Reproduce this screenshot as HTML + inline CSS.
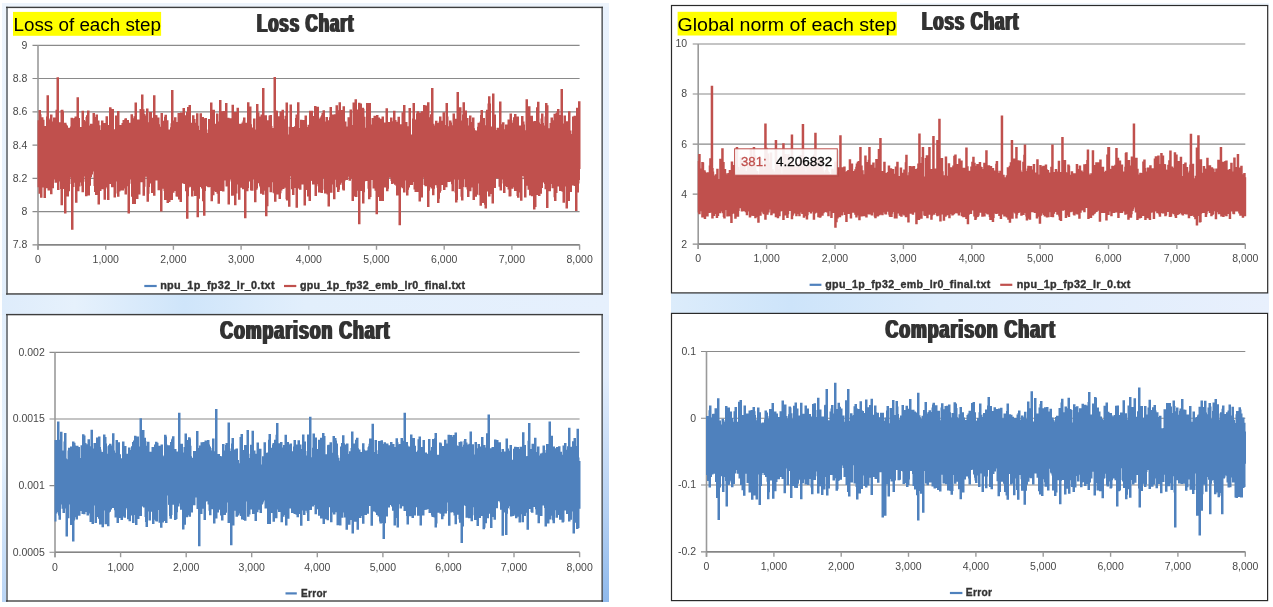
<!DOCTYPE html>
<html><head><meta charset="utf-8"><title>Loss Chart</title>
<style>
html,body{margin:0;padding:0;background:#fff;}
body{width:1273px;height:607px;overflow:hidden;}
svg{display:block;}
text{font-family:"Liberation Sans",sans-serif;}
.lab{font-size:10.5px;fill:#484848;}
.leg{font-size:10.3px;font-weight:bold;fill:#333;stroke:#333;stroke-width:0.35px;letter-spacing:0.3px;}
.ttl{font-size:25.6px;font-weight:bold;fill:#333;filter:url(#dx);}
.hl{font-size:18.7px;fill:#000;}
</style></head><body>
<svg width="1273" height="607" viewBox="0 0 1273 607">
<defs>
<filter id="dx" x="-5%" y="-10%" width="110%" height="120%"><feMorphology operator="dilate" radius="1 0"/></filter>
<linearGradient id="gL" x1="0" y1="0" x2="1" y2="0"><stop offset="0" stop-color="#deecfb"/><stop offset="0.12" stop-color="#e6f1fc"/><stop offset="0.3" stop-color="#cfe5fa"/><stop offset="0.5" stop-color="#e2effc"/><stop offset="1" stop-color="#e6f0fd"/></linearGradient>
<linearGradient id="gR" x1="0" y1="0" x2="1" y2="0"><stop offset="0" stop-color="#dcecfb"/><stop offset="0.2" stop-color="#cde4fa"/><stop offset="0.45" stop-color="#dcebfb"/><stop offset="1" stop-color="#e8f0fd"/></linearGradient>
<linearGradient id="gV1" x1="0" y1="0" x2="0" y2="1"><stop offset="0" stop-color="#eef5fd"/><stop offset="0.5" stop-color="#e2eefb"/><stop offset="0.75" stop-color="#e4f0fc"/><stop offset="1" stop-color="#bad5f5"/></linearGradient>
<linearGradient id="gV2" x1="0" y1="0" x2="0" y2="1"><stop offset="0" stop-color="#e9f2fd"/><stop offset="0.62" stop-color="#e2edfc"/><stop offset="0.85" stop-color="#b4d0f3"/><stop offset="1" stop-color="#8fb9ec"/></linearGradient>
</defs>
<rect width="1273" height="607" fill="#fff"/>
<rect x="2" y="3" width="607" height="5" fill="#edf4fc"/>
<rect x="2" y="7" width="5" height="595" fill="url(#gV1)"/>
<rect x="602" y="7" width="7" height="595" fill="url(#gV2)"/>
<rect x="2" y="294" width="607" height="21" fill="url(#gL)"/>
<rect x="671" y="293" width="598" height="20.5" fill="url(#gR)"/>
<rect x="900" y="3" width="369" height="3" fill="#f0f6fd"/>
<rect x="6.9" y="7.4" width="595.2" height="286.6" fill="#fff"/>
<rect x="6.0" y="6.8" width="2" height="287.8" fill="#7e8388"/>
<rect x="601.4" y="6.8" width="1.5" height="287.8" fill="#55585c"/>
<rect x="6.0" y="6.7" width="597.0" height="1.4" fill="#3e3e3e"/>
<rect x="6.0" y="293.2" width="597.0" height="1.5" fill="#4a4a4a"/>
<rect x="6.9" y="314.6" width="595.2" height="286.4" fill="#fff"/>
<rect x="6.0" y="314.0" width="2" height="287.6" fill="#7e8388"/>
<rect x="601.4" y="314.0" width="1.5" height="287.6" fill="#55585c"/>
<rect x="6.0" y="313.9" width="597.0" height="1.4" fill="#3e3e3e"/>
<rect x="6.0" y="600.4" width="597.0" height="1.2" fill="#262626"/>
<rect x="671.5" y="5.5" width="596.2" height="287.4" fill="#fff" stroke="#2a2a2a" stroke-width="1.2"/>
<rect x="671.5" y="313.4" width="596.1" height="287.2" fill="#fff" stroke="#2a2a2a" stroke-width="1.2"/>
<line x1="32.5" y1="45.3" x2="579.6" y2="45.3" stroke="#8a8a8a" stroke-width="1.15"/>
<line x1="32.5" y1="78.5" x2="579.6" y2="78.5" stroke="#8a8a8a" stroke-width="1.15"/>
<line x1="32.5" y1="111.8" x2="579.6" y2="111.8" stroke="#8a8a8a" stroke-width="1.15"/>
<line x1="32.5" y1="145.1" x2="579.6" y2="145.1" stroke="#8a8a8a" stroke-width="1.15"/>
<line x1="32.5" y1="178.3" x2="579.6" y2="178.3" stroke="#8a8a8a" stroke-width="1.15"/>
<line x1="32.5" y1="211.6" x2="579.6" y2="211.6" stroke="#8a8a8a" stroke-width="1.15"/>
<line x1="32.5" y1="244.8" x2="579.6" y2="244.8" stroke="#8a8a8a" stroke-width="1.15"/>
<line x1="38.0" y1="45.3" x2="38.0" y2="249.8" stroke="#9a9a9a" stroke-width="1.6"/>
<line x1="38.0" y1="244.8" x2="579.6" y2="244.8" stroke="#858585" stroke-width="1.6"/>
<line x1="38.0" y1="244.8" x2="38.0" y2="249.8" stroke="#9a9a9a" stroke-width="1.4"/>
<text class="lab" x="38.0" y="263.3" text-anchor="middle">0</text>
<line x1="105.7" y1="244.8" x2="105.7" y2="249.8" stroke="#9a9a9a" stroke-width="1.4"/>
<text class="lab" x="105.7" y="263.3" text-anchor="middle">1,000</text>
<line x1="173.4" y1="244.8" x2="173.4" y2="249.8" stroke="#9a9a9a" stroke-width="1.4"/>
<text class="lab" x="173.4" y="263.3" text-anchor="middle">2,000</text>
<line x1="241.1" y1="244.8" x2="241.1" y2="249.8" stroke="#9a9a9a" stroke-width="1.4"/>
<text class="lab" x="241.1" y="263.3" text-anchor="middle">3,000</text>
<line x1="308.8" y1="244.8" x2="308.8" y2="249.8" stroke="#9a9a9a" stroke-width="1.4"/>
<text class="lab" x="308.8" y="263.3" text-anchor="middle">4,000</text>
<line x1="376.5" y1="244.8" x2="376.5" y2="249.8" stroke="#9a9a9a" stroke-width="1.4"/>
<text class="lab" x="376.5" y="263.3" text-anchor="middle">5,000</text>
<line x1="444.2" y1="244.8" x2="444.2" y2="249.8" stroke="#9a9a9a" stroke-width="1.4"/>
<text class="lab" x="444.2" y="263.3" text-anchor="middle">6,000</text>
<line x1="511.9" y1="244.8" x2="511.9" y2="249.8" stroke="#9a9a9a" stroke-width="1.4"/>
<text class="lab" x="511.9" y="263.3" text-anchor="middle">7,000</text>
<line x1="579.6" y1="244.8" x2="579.6" y2="249.8" stroke="#9a9a9a" stroke-width="1.4"/>
<text class="lab" x="579.6" y="263.3" text-anchor="middle">8,000</text>
<text class="lab" x="27.3" y="48.7" text-anchor="end">9</text>
<text class="lab" x="27.3" y="82.0" text-anchor="end">8.8</text>
<text class="lab" x="27.3" y="115.2" text-anchor="end">8.6</text>
<text class="lab" x="27.3" y="148.5" text-anchor="end">8.4</text>
<text class="lab" x="27.3" y="181.7" text-anchor="end">8.2</text>
<text class="lab" x="27.3" y="215.0" text-anchor="end">8</text>
<text class="lab" x="27.3" y="248.2" text-anchor="end">7.8</text>
<path d="M37.5 120.2H38.0V120.2H38.5V110.0H39.0V110.0H39.5V110.0H40.0V110.0H40.5V110.0H41.0V114.3H41.5V117.3H42.0V117.3H42.5V117.3H43.0V117.3H43.5V119.7H44.0V119.7H44.5V126.1H45.0V126.1H45.5V126.1H46.0V116.4H46.5V95.2H47.0V95.2H47.5V95.2H48.0V95.2H48.5V95.2H49.0V119.4H49.5V118.3H50.0V114.5H50.5V114.5H51.0V114.5H51.5V114.5H52.0V114.5H52.5V121.5H53.0V117.4H53.5V117.4H54.0V117.4H54.5V117.4H55.0V117.4H55.5V109.7H56.0V109.7H56.5V77.2H57.0V77.2H57.5V77.2H58.0V77.2H58.5V77.2H59.0V122.3H59.5V122.3H60.0V122.3H60.5V110.0H61.0V109.8H61.5V109.8H62.0V109.8H62.5V109.8H63.0V109.8H63.5V111.4H64.0V122.8H64.5V122.8H65.0V122.8H65.5V122.8H66.0V122.8H66.5V124.4H67.0V125.6H67.5V125.6H68.0V127.8H68.5V127.8H69.0V127.8H69.5V127.8H70.0V126.4H70.5V117.8H71.0V117.8H71.5V117.8H72.0V117.8H72.5V117.8H73.0V118.5H73.5V118.0H74.0V118.0H74.5V116.6H75.0V116.6H75.5V116.6H76.0V116.6H76.5V97.2H77.0V97.2H77.5V97.2H78.0V97.2H78.5V97.2H79.0V118.0H79.5V118.0H80.0V127.0H80.5V127.0H81.0V127.0H81.5V110.8H82.0V110.8H82.5V110.8H83.0V110.8H83.5V110.8H84.0V119.9H84.5V119.9H85.0V121.3H85.5V117.1H86.0V115.2H86.5V115.2H87.0V110.4H87.5V110.4H88.0V110.4H88.5V110.4H89.0V110.4H89.5V125.5H90.0V123.8H90.5V123.8H91.0V123.8H91.5V123.8H92.0V123.8H92.5V112.9H93.0V112.9H93.5V112.9H94.0V112.9H94.5V112.9H95.0V116.9H95.5V114.6H96.0V114.6H96.5V114.6H97.0V114.6H97.5V114.6H98.0V120.4H98.5V120.4H99.0V120.4H99.5V125.2H100.0V125.2H100.5V130.0H101.0V120.4H101.5V120.4H102.0V120.4H102.5V120.4H103.0V120.4H103.5V122.9H104.0V122.9H104.5V122.9H105.0V122.9H105.5V116.3H106.0V116.3H106.5V116.3H107.0V116.3H107.5V116.3H108.0V125.1H108.5V125.1H109.0V107.3H109.5V107.3H110.0V107.3H110.5V107.3H111.0V107.3H111.5V108.8H112.0V109.0H112.5V109.0H113.0V109.0H113.5V109.0H114.0V129.2H114.5V129.2H115.0V115.4H115.5V115.4H116.0V115.4H116.5V115.4H117.0V111.1H117.5V111.1H118.0V111.1H118.5V111.1H119.0V111.1H119.5V125.1H120.0V125.1H120.5V125.1H121.0V125.1H121.5V122.9H122.0V122.9H122.5V120.1H123.0V120.1H123.5V120.1H124.0V119.6H124.5V118.3H125.0V118.3H125.5V118.3H126.0V118.3H126.5V118.3H127.0V120.1H127.5V120.1H128.0V120.1H128.5V120.1H129.0V122.8H129.5V122.8H130.0V122.8H130.5V114.3H131.0V114.3H131.5V114.3H132.0V114.3H132.5V114.3H133.0V118.3H133.5V116.2H134.0V116.2H134.5V102.5H135.0V102.5H135.5V102.5H136.0V102.5H136.5V102.5H137.0V119.4H137.5V119.4H138.0V119.4H138.5V119.4H139.0V119.4H139.5V108.9H140.0V108.9H140.5V108.9H141.0V94.6H141.5V94.6H142.0V94.6H142.5V94.6H143.0V94.6H143.5V109.3H144.0V109.3H144.5V114.1H145.0V114.1H145.5V115.5H146.0V108.6H146.5V108.6H147.0V108.6H147.5V108.6H148.0V108.6H148.5V122.3H149.0V112.1H149.5V112.1H150.0V112.1H150.5V112.1H151.0V112.1H151.5V112.1H152.0V117.8H152.5V117.8H153.0V95.2H153.5V95.2H154.0V95.2H154.5V95.2H155.0V95.2H155.5V114.9H156.0V114.9H156.5V115.3H157.0V115.3H157.5V117.4H158.0V117.4H158.5V117.4H159.0V117.4H159.5V124.2H160.0V126.8H160.5V112.9H161.0V112.9H161.5V112.9H162.0V112.9H162.5V112.9H163.0V120.7H163.5V120.7H164.0V116.8H164.5V114.8H165.0V114.8H165.5V114.8H166.0V114.8H166.5V114.8H167.0V120.3H167.5V120.3H168.0V120.3H168.5V129.5H169.0V129.5H169.5V129.5H170.0V127.2H170.5V123.2H171.0V89.9H171.5V89.9H172.0V89.9H172.5V89.9H173.0V89.9H173.5V120.4H174.0V117.2H174.5V117.2H175.0V117.2H175.5V117.2H176.0V117.2H176.5V121.9H177.0V121.9H177.5V112.9H178.0V112.9H178.5V112.9H179.0V112.9H179.5V112.9H180.0V112.6H180.5V112.6H181.0V112.6H181.5V112.6H182.0V112.6H182.5V107.9H183.0V107.9H183.5V107.9H184.0V107.9H184.5V107.9H185.0V115.2H185.5V115.2H186.0V112.0H186.5V112.0H187.0V107.0H187.5V107.0H188.0V107.0H188.5V104.9H189.0V104.9H189.5V104.9H190.0V104.9H190.5V104.9H191.0V122.8H191.5V122.8H192.0V115.2H192.5V115.2H193.0V115.2H193.5V115.2H194.0V115.2H194.5V118.9H195.0V118.9H195.5V122.8H196.0V113.2H196.5V113.2H197.0V113.2H197.5V113.2H198.0V113.2H198.5V125.8H199.0V130.1H199.5V113.2H200.0V113.2H200.5V113.2H201.0V113.2H201.5V113.2H202.0V117.1H202.5V117.1H203.0V117.1H203.5V117.1H204.0V118.5H204.5V118.1H205.0V118.1H205.5V118.1H206.0V118.1H206.5V118.1H207.0V129.5H207.5V133.0H208.0V119.0H208.5V119.0H209.0V119.0H209.5V119.0H210.0V102.5H210.5V102.5H211.0V102.5H211.5V102.5H212.0V102.5H212.5V109.7H213.0V109.7H213.5V109.7H214.0V109.7H214.5V109.7H215.0V123.7H215.5V123.7H216.0V113.6H216.5V113.6H217.0V113.6H217.5V113.6H218.0V113.6H218.5V121.4H219.0V99.9H219.5V99.9H220.0V99.9H220.5V99.9H221.0V99.9H221.5V111.2H222.0V111.2H222.5V111.2H223.0V110.9H223.5V110.9H224.0V110.9H224.5V110.9H225.0V102.9H225.5V102.9H226.0V102.9H226.5V102.9H227.0V102.9H227.5V117.8H228.0V117.8H228.5V117.8H229.0V117.8H229.5V118.2H230.0V118.2H230.5V118.2H231.0V118.2H231.5V104.8H232.0V104.8H232.5V104.8H233.0V104.8H233.5V104.8H234.0V112.0H234.5V112.0H235.0V112.0H235.5V112.0H236.0V112.0H236.5V107.7H237.0V107.7H237.5V107.7H238.0V107.7H238.5V107.7H239.0V123.8H239.5V123.8H240.0V123.8H240.5V123.8H241.0V123.8H241.5V122.4H242.0V122.4H242.5V120.6H243.0V117.6H243.5V117.6H244.0V117.6H244.5V117.6H245.0V117.6H245.5V122.7H246.0V122.7H246.5V122.7H247.0V102.2H247.5V102.2H248.0V102.2H248.5V102.2H249.0V102.2H249.5V106.5H250.0V106.5H250.5V106.5H251.0V106.5H251.5V124.2H252.0V127.5H252.5V127.5H253.0V118.4H253.5V118.4H254.0V118.4H254.5V118.4H255.0V118.4H255.5V129.5H256.0V104.0H256.5V104.0H257.0V104.0H257.5V104.0H258.0V104.0H258.5V112.5H259.0V112.5H259.5V116.4H260.0V116.4H260.5V114.4H261.0V114.4H261.5V114.4H262.0V88.0H262.5V88.0H263.0V88.0H263.5V88.0H264.0V88.0H264.5V115.2H265.0V115.2H265.5V115.2H266.0V115.2H266.5V115.2H267.0V120.2H267.5V120.2H268.0V120.2H268.5V115.6H269.0V115.6H269.5V115.0H270.0V115.0H270.5V115.0H271.0V115.0H271.5V115.0H272.0V125.9H272.5V127.9H273.0V127.9H273.5V77.0H274.0V77.0H274.5V77.0H275.0V77.0H275.5V77.0H276.0V110.4H276.5V110.4H277.0V110.7H277.5V110.7H278.0V116.2H278.5V116.2H279.0V116.2H279.5V111.6H280.0V111.6H280.5V111.6H281.0V111.6H281.5V109.8H282.0V109.8H282.5V109.8H283.0V109.8H283.5V109.8H284.0V119.3H284.5V115.7H285.0V115.7H285.5V102.5H286.0V102.5H286.5V102.5H287.0V102.5H287.5V102.5H288.0V134.5H288.5V126.8H289.0V126.8H289.5V104.5H290.0V104.5H290.5V104.5H291.0V104.5H291.5V104.5H292.0V126.9H292.5V126.9H293.0V126.9H293.5V126.9H294.0V126.2H294.5V126.2H295.0V118.0H295.5V114.5H296.0V114.5H296.5V114.5H297.0V102.2H297.5V102.2H298.0V102.2H298.5V102.2H299.0V102.2H299.5V128.1H300.0V119.7H300.5V119.7H301.0V119.7H301.5V119.7H302.0V119.7H302.5V119.9H303.0V119.9H303.5V119.9H304.0V119.9H304.5V115.6H305.0V115.6H305.5V115.6H306.0V115.6H306.5V115.6H307.0V127.0H307.5V124.7H308.0V124.7H308.5V124.7H309.0V110.7H309.5V110.7H310.0V110.7H310.5V110.7H311.0V110.7H311.5V110.7H312.0V110.7H312.5V110.7H313.0V116.1H313.5V116.1H314.0V106.0H314.5V106.0H315.0V106.0H315.5V106.0H316.0V106.0H316.5V106.8H317.0V106.8H317.5V106.8H318.0V106.8H318.5V106.8H319.0V118.8H319.5V117.6H320.0V117.6H320.5V116.2H321.0V115.2H321.5V113.1H322.0V113.1H322.5V110.2H323.0V110.2H323.5V110.2H324.0V110.2H324.5V110.2H325.0V121.4H325.5V117.1H326.0V117.1H326.5V117.1H327.0V117.1H327.5V117.1H328.0V120.2H328.5V120.2H329.0V117.2H329.5V106.9H330.0V106.9H330.5V106.9H331.0V106.9H331.5V106.9H332.0V114.4H332.5V114.4H333.0V114.4H333.5V114.4H334.0V114.3H334.5V114.3H335.0V114.3H335.5V105.2H336.0V105.2H336.5V105.2H337.0V105.2H337.5V105.2H338.0V110.2H338.5V102.2H339.0V102.2H339.5V102.2H340.0V102.2H340.5V102.2H341.0V109.9H341.5V109.9H342.0V109.9H342.5V106.2H343.0V106.2H343.5V106.2H344.0V106.2H344.5V106.2H345.0V121.5H345.5V121.5H346.0V121.5H346.5V126.5H347.0V126.5H347.5V117.3H348.0V117.3H348.5V117.3H349.0V117.3H349.5V109.6H350.0V109.6H350.5V109.6H351.0V109.6H351.5V109.6H352.0V125.1H352.5V102.5H353.0V102.5H353.5V102.5H354.0V102.5H354.5V99.2H355.0V99.2H355.5V99.2H356.0V99.2H356.5V99.2H357.0V109.5H357.5V109.5H358.0V102.7H358.5V102.7H359.0V102.7H359.5V102.7H360.0V102.7H360.5V103.5H361.0V103.5H361.5V103.5H362.0V107.7H362.5V107.7H363.0V107.7H363.5V107.7H364.0V108.8H364.5V116.7H365.0V116.7H365.5V127.8H366.0V103.1H366.5V103.1H367.0V103.1H367.5V103.1H368.0V103.1H368.5V102.9H369.0V102.9H369.5V102.9H370.0V102.9H370.5V102.9H371.0V124.6H371.5V118.0H372.0V118.0H372.5V118.0H373.0V118.0H373.5V115.8H374.0V115.8H374.5V115.8H375.0V115.8H375.5V115.8H376.0V114.9H376.5V114.9H377.0V114.9H377.5V114.9H378.0V114.9H378.5V117.6H379.0V117.6H379.5V117.6H380.0V118.7H380.5V118.7H381.0V118.7H381.5V116.5H382.0V116.5H382.5V116.5H383.0V116.5H383.5V116.5H384.0V122.5H384.5V122.5H385.0V122.5H385.5V108.2H386.0V108.2H386.5V108.2H387.0V108.2H387.5V108.2H388.0V122.0H388.5V122.0H389.0V122.0H389.5V122.0H390.0V117.5H390.5V117.5H391.0V117.5H391.5V117.5H392.0V117.5H392.5V121.2H393.0V110.8H393.5V110.8H394.0V110.8H394.5V110.8H395.0V110.8H395.5V120.0H396.0V120.0H396.5V121.7H397.0V121.7H397.5V116.8H398.0V116.8H398.5V116.8H399.0V116.8H399.5V116.8H400.0V124.3H400.5V124.3H401.0V124.3H401.5V112.3H402.0V112.3H402.5V112.3H403.0V105.1H403.5V105.1H404.0V105.1H404.5V105.1H405.0V105.1H405.5V122.0H406.0V122.0H406.5V122.0H407.0V122.0H407.5V126.2H408.0V126.2H408.5V107.9H409.0V107.9H409.5V107.9H410.0V107.9H410.5V107.9H411.0V134.4H411.5V134.4H412.0V118.6H412.5V103.0H413.0V103.0H413.5V103.0H414.0V103.0H414.5V103.0H415.0V119.6H415.5V119.6H416.0V113.6H416.5V111.3H417.0V111.3H417.5V111.3H418.0V111.3H418.5V111.3H419.0V112.4H419.5V112.4H420.0V112.4H420.5V112.4H421.0V111.3H421.5V111.3H422.0V111.3H422.5V111.3H423.0V104.9H423.5V104.9H424.0V104.9H424.5V104.9H425.0V104.9H425.5V105.6H426.0V105.6H426.5V105.6H427.0V102.3H427.5V102.3H428.0V102.3H428.5V102.3H429.0V102.3H429.5V117.2H430.0V114.2H430.5V114.2H431.0V88.0H431.5V88.0H432.0V88.0H432.5V88.0H433.0V88.0H433.5V123.7H434.0V123.7H434.5V125.5H435.0V120.7H435.5V120.7H436.0V120.7H436.5V120.7H437.0V120.7H437.5V123.0H438.0V123.0H438.5V121.5H439.0V116.6H439.5V116.6H440.0V116.6H440.5V116.6H441.0V116.6H441.5V120.7H442.0V120.7H442.5V112.3H443.0V112.3H443.5V112.3H444.0V112.3H444.5V112.3H445.0V124.9H445.5V103.0H446.0V103.0H446.5V103.0H447.0V103.0H447.5V103.0H448.0V116.6H448.5V126.3H449.0V120.6H449.5V120.6H450.0V120.6H450.5V120.6H451.0V120.6H451.5V122.4H452.0V125.2H452.5V113.6H453.0V113.6H453.5V113.6H454.0V113.6H454.5V113.6H455.0V118.8H455.5V118.8H456.0V118.8H456.5V92.1H457.0V92.1H457.5V92.1H458.0V92.1H458.5V92.1H459.0V107.2H459.5V107.2H460.0V107.2H460.5V107.2H461.0V107.2H461.5V120.5H462.0V114.6H462.5V102.3H463.0V102.3H463.5V102.3H464.0V102.3H464.5V102.3H465.0V110.4H465.5V110.4H466.0V110.4H466.5V110.4H467.0V118.0H467.5V118.0H468.0V118.0H468.5V125.6H469.0V115.5H469.5V115.5H470.0V115.5H470.5V115.5H471.0V115.5H471.5V122.0H472.0V117.4H472.5V117.4H473.0V117.4H473.5V117.4H474.0V117.4H474.5V128.3H475.0V130.3H475.5V130.3H476.0V130.5H476.5V130.5H477.0V126.8H477.5V122.8H478.0V122.8H478.5V122.8H479.0V122.8H479.5V121.5H480.0V115.1H480.5V109.9H481.0V109.9H481.5V109.9H482.0V109.9H482.5V109.9H483.0V118.1H483.5V118.1H484.0V118.1H484.5V118.1H485.0V125.2H485.5V111.5H486.0V109.8H486.5V109.8H487.0V109.8H487.5V103.4H488.0V96.2H488.5V96.2H489.0V96.2H489.5V96.2H490.0V96.2H490.5V103.5H491.0V126.5H491.5V126.5H492.0V93.6H492.5V93.6H493.0V93.6H493.5V93.6H494.0V93.6H494.5V114.6H495.0V114.6H495.5V114.6H496.0V130.0H496.5V127.7H497.0V127.7H497.5V127.7H498.0V127.7H498.5V127.7H499.0V101.6H499.5V101.6H500.0V101.6H500.5V101.6H501.0V101.6H501.5V124.3H502.0V122.3H502.5V122.3H503.0V122.3H503.5V122.3H504.0V122.3H504.5V129.2H505.0V124.5H505.5V124.5H506.0V124.4H506.5V124.4H507.0V124.4H507.5V119.4H508.0V119.4H508.5V119.4H509.0V119.4H509.5V113.6H510.0V113.6H510.5V113.6H511.0V113.6H511.5V113.6H512.0V122.8H512.5V120.3H513.0V117.3H513.5V117.3H514.0V114.1H514.5V114.1H515.0V114.1H515.5V114.1H516.0V114.1H516.5V116.6H517.0V116.6H517.5V116.6H518.0V116.6H518.5V116.6H519.0V125.5H519.5V125.5H520.0V125.5H520.5V125.5H521.0V116.1H521.5V116.1H522.0V116.1H522.5V116.1H523.0V116.1H523.5V121.5H524.0V121.5H524.5V124.4H525.0V130.3H525.5V99.2H526.0V99.2H526.5V99.2H527.0V99.2H527.5V99.2H528.0V106.3H528.5V106.3H529.0V106.3H529.5V106.3H530.0V106.3H530.5V115.8H531.0V115.8H531.5V115.8H532.0V115.8H532.5V115.8H533.0V121.4H533.5V121.0H534.0V121.0H534.5V121.0H535.0V121.0H535.5V121.0H536.0V107.3H536.5V107.3H537.0V101.8H537.5V101.8H538.0V101.8H538.5V101.8H539.0V101.8H539.5V122.4H540.0V123.9H540.5V118.5H541.0V113.4H541.5V113.4H542.0V113.4H542.5V113.4H543.0V113.4H543.5V122.9H544.0V125.4H544.5V116.4H545.0V103.1H545.5V103.1H546.0V103.1H546.5V103.1H547.0V103.1H547.5V105.2H548.0V105.2H548.5V128.2H549.0V128.2H549.5V122.9H550.0V122.9H550.5V117.6H551.0V117.6H551.5V117.6H552.0V117.6H552.5V117.6H553.0V120.3H553.5V113.7H554.0V113.7H554.5V113.7H555.0V113.7H555.5V112.7H556.0V112.7H556.5V111.3H557.0V108.9H557.5V108.9H558.0V108.9H558.5V108.9H559.0V108.9H559.5V115.1H560.0V115.1H560.5V89.0H561.0V89.0H561.5V89.0H562.0V89.0H562.5V89.0H563.0V123.6H563.5V115.5H564.0V115.5H564.5V115.5H565.0V115.5H565.5V115.5H566.0V121.2H566.5V121.2H567.0V121.2H567.5V121.2H568.0V111.2H568.5V111.2H569.0V111.2H569.5V111.2H570.0V111.2H570.5V130.4H571.0V130.4H571.5V134.1H572.0V116.6H572.5V116.6H573.0V116.6H573.5V115.8H574.0V115.8H574.5V115.8H575.0V115.8H575.5V115.8H576.0V107.7H576.5V107.7H577.0V107.7H577.5V107.7H578.0V101.3H578.5V101.3H579.0V101.3H579.5V101.3H580.0V101.3H580.5V169.1H580.0V180.1H579.5V183.4H579.0V192.4H578.5V192.4H578.0V192.4H577.5V211.1H577.0V211.1H576.5V211.1H576.0V211.1H575.5V211.1H575.0V185.9H574.5V185.9H574.0V185.9H573.5V185.2H573.0V184.9H572.5V185.9H572.0V192.1H571.5V192.1H571.0V192.1H570.5V192.1H570.0V201.0H569.5V201.0H569.0V201.0H568.5V201.0H568.0V208.6H567.5V208.6H567.0V208.6H566.5V208.6H566.0V208.6H565.5V186.5H565.0V202.8H564.5V202.8H564.0V202.8H563.5V202.8H563.0V202.8H562.5V191.8H562.0V191.8H561.5V190.9H561.0V190.9H560.5V190.9H560.0V190.9H559.5V190.9H559.0V186.6H558.5V186.6H558.0V186.6H557.5V193.0H557.0V193.0H556.5V200.9H556.0V200.9H555.5V200.9H555.0V200.9H554.5V200.9H554.0V197.2H553.5V188.2H553.0V188.2H552.5V188.2H552.0V188.2H551.5V183.9H551.0V191.3H550.5V191.3H550.0V191.3H549.5V191.3H549.0V191.3H548.5V208.0H548.0V208.0H547.5V208.0H547.0V208.0H546.5V208.0H546.0V189.2H545.5V189.2H545.0V189.2H544.5V184.0H544.0V182.6H543.5V182.6H543.0V187.9H542.5V187.9H542.0V193.8H541.5V193.8H541.0V193.8H540.5V196.1H540.0V196.1H539.5V196.1H539.0V196.1H538.5V196.1H538.0V195.1H537.5V195.1H537.0V195.1H536.5V207.0H536.0V207.0H535.5V209.6H535.0V209.6H534.5V209.6H534.0V209.6H533.5V209.6H533.0V196.2H532.5V196.2H532.0V196.2H531.5V196.2H531.0V195.5H530.5V195.5H530.0V195.5H529.5V195.5H529.0V189.7H528.5V189.7H528.0V189.7H527.5V185.7H527.0V185.7H526.5V197.5H526.0V197.5H525.5V197.5H525.0V197.5H524.5V197.5H524.0V179.2H523.5V176.3H523.0V176.1H522.5V200.8H522.0V200.8H521.5V200.8H521.0V200.8H520.5V200.8H520.0V192.6H519.5V197.8H519.0V197.8H518.5V197.8H518.0V197.8H517.5V197.8H517.0V196.0H516.5V191.1H516.0V191.1H515.5V191.1H515.0V191.1H514.5V191.1H514.0V187.3H513.5V188.7H513.0V188.7H512.5V188.7H512.0V188.7H511.5V196.2H511.0V196.4H510.5V196.4H510.0V196.4H509.5V196.4H509.0V196.4H508.5V189.6H508.0V189.6H507.5V187.0H507.0V187.0H506.5V187.0H506.0V186.0H505.5V193.0H505.0V193.0H504.5V193.0H504.0V193.0H503.5V193.0H503.0V183.6H502.5V179.6H502.0V190.5H501.5V190.5H501.0V190.5H500.5V190.5H500.0V190.5H499.5V186.8H499.0V186.8H498.5V178.6H498.0V178.6H497.5V178.6H497.0V178.6H496.5V178.6H496.0V188.0H495.5V188.0H495.0V188.0H494.5V188.0H494.0V203.6H493.5V203.6H493.0V203.6H492.5V203.6H492.0V203.6H491.5V193.9H491.0V193.9H490.5V196.5H490.0V196.5H489.5V196.5H489.0V196.5H488.5V196.5H488.0V191.6H487.5V191.6H487.0V208.6H486.5V208.6H486.0V208.6H485.5V208.6H485.0V208.6H484.5V204.7H484.0V202.9H483.5V202.9H483.0V202.9H482.5V202.9H482.0V205.7H481.5V205.7H481.0V205.7H480.5V205.7H480.0V205.7H479.5V195.3H479.0V195.3H478.5V183.5H478.0V194.8H477.5V194.8H477.0V196.8H476.5V196.8H476.0V196.8H475.5V196.8H475.0V199.9H474.5V199.9H474.0V199.9H473.5V199.9H473.0V199.9H472.5V187.5H472.0V187.5H471.5V191.2H471.0V191.2H470.5V191.2H470.0V191.2H469.5V196.9H469.0V196.9H468.5V196.9H468.0V196.9H467.5V196.9H467.0V189.5H466.5V187.2H466.0V187.2H465.5V187.2H465.0V187.2H464.5V179.3H464.0V186.9H463.5V200.6H463.0V200.6H462.5V200.6H462.0V200.6H461.5V200.6H461.0V196.7H460.5V189.0H460.0V189.0H459.5V189.0H459.0V189.0H458.5V179.8H458.0V199.9H457.5V202.6H457.0V202.6H456.5V202.6H456.0V202.6H455.5V202.6H455.0V192.4H454.5V179.5H454.0V191.3H453.5V191.3H453.0V191.3H452.5V191.3H452.0V191.3H451.5V184.3H451.0V181.7H450.5V181.7H450.0V182.1H449.5V182.1H449.0V182.1H448.5V182.1H448.0V182.1H447.5V187.3H447.0V187.3H446.5V187.3H446.0V187.3H445.5V190.1H445.0V190.1H444.5V190.1H444.0V190.1H443.5V190.1H443.0V184.9H442.5V184.9H442.0V184.9H441.5V190.9H441.0V192.8H440.5V192.8H440.0V198.7H439.5V203.0H439.0V203.0H438.5V203.0H438.0V203.0H437.5V203.0H437.0V187.7H436.5V185.2H436.0V185.2H435.5V185.2H435.0V188.7H434.5V195.2H434.0V195.2H433.5V195.2H433.0V195.2H432.5V195.2H432.0V188.6H431.5V188.6H431.0V188.6H430.5V186.9H430.0V190.7H429.5V207.1H429.0V207.1H428.5V207.1H428.0V207.1H427.5V207.1H427.0V186.3H426.5V186.3H426.0V186.3H425.5V186.3H425.0V186.3H424.5V184.9H424.0V184.9H423.5V177.7H423.0V197.6H422.5V197.6H422.0V197.6H421.5V197.6H421.0V201.6H420.5V201.6H420.0V201.6H419.5V201.6H419.0V201.6H418.5V191.9H418.0V191.9H417.5V191.9H417.0V192.1H416.5V192.1H416.0V192.1H415.5V192.1H415.0V192.1H414.5V189.4H414.0V189.4H413.5V181.9H413.0V184.9H412.5V185.1H412.0V185.1H411.5V185.1H411.0V185.1H410.5V185.1H410.0V187.5H409.5V187.5H409.0V189.8H408.5V195.5H408.0V195.5H407.5V195.5H407.0V195.5H406.5V195.5H406.0V180.4H405.5V192.4H405.0V192.4H404.5V192.4H404.0V192.4H403.5V192.4H403.0V188.2H402.5V188.2H402.0V188.2H401.5V187.1H401.0V225.2H400.5V225.2H400.0V225.2H399.5V225.2H399.0V225.2H398.5V195.4H398.0V195.4H397.5V195.4H397.0V195.4H396.5V195.4H396.0V186.1H395.5V184.8H395.0V184.8H394.5V184.8H394.0V183.3H393.5V184.1H393.0V184.1H392.5V184.1H392.0V184.1H391.5V184.1H391.0V181.1H390.5V177.8H390.0V177.8H389.5V177.8H389.0V188.7H388.5V191.3H388.0V191.3H387.5V191.3H387.0V191.3H386.5V191.3H386.0V187.5H385.5V187.5H385.0V187.5H384.5V187.5H384.0V200.9H383.5V200.9H383.0V200.9H382.5V200.9H382.0V200.9H381.5V201.0H381.0V201.0H380.5V201.0H380.0V201.0H379.5V201.0H379.0V197.1H378.5V197.1H378.0V214.3H377.5V214.3H377.0V214.3H376.5V214.3H376.0V214.3H375.5V190.7H375.0V190.7H374.5V188.4H374.0V188.4H373.5V188.4H373.0V188.4H372.5V180.1H372.0V180.1H371.5V197.1H371.0V197.1H370.5V199.3H370.0V199.3H369.5V199.3H369.0V199.3H368.5V199.3H368.0V188.7H367.5V181.1H367.0V181.1H366.5V181.1H366.0V181.1H365.5V181.4H365.0V192.3H364.5V203.5H364.0V203.5H363.5V203.5H363.0V203.5H362.5V203.5H362.0V191.0H361.5V191.0H361.0V191.0H360.5V224.3H360.0V224.3H359.5V224.3H359.0V224.3H358.5V224.3H358.0V190.7H357.5V197.1H357.0V197.1H356.5V197.1H356.0V197.1H355.5V197.1H355.0V196.5H354.5V196.5H354.0V201.1H353.5V201.1H353.0V201.1H352.5V201.1H352.0V201.1H351.5V178.5H351.0V180.8H350.5V180.8H350.0V180.8H349.5V180.8H349.0V180.8H348.5V176.7H348.0V180.1H347.5V180.1H347.0V180.1H346.5V180.1H346.0V180.1H345.5V181.2H345.0V190.5H344.5V190.5H344.0V190.5H343.5V190.5H343.0V190.5H342.5V189.6H342.0V182.8H341.5V184.8H341.0V184.8H340.5V184.8H340.0V189.8H339.5V192.0H339.0V192.0H338.5V192.0H338.0V192.0H337.5V192.0H337.0V187.4H336.5V187.0H336.0V179.7H335.5V199.3H335.0V199.3H334.5V199.3H334.0V199.3H333.5V199.3H333.0V184.5H332.5V192.7H332.0V192.7H331.5V192.7H331.0V192.7H330.5V192.7H330.0V206.6H329.5V206.6H329.0V206.6H328.5V206.6H328.0V206.6H327.5V194.5H327.0V194.5H326.5V193.6H326.0V193.6H325.5V193.6H325.0V193.6H324.5V193.6H324.0V189.8H323.5V178.2H323.0V193.1H322.5V193.1H322.0V193.1H321.5V193.1H321.0V193.1H320.5V192.6H320.0V192.6H319.5V192.6H319.0V192.6H318.5V192.6H318.0V184.3H317.5V186.3H317.0V196.0H316.5V196.0H316.0V196.0H315.5V196.0H315.0V196.0H314.5V184.4H314.0V184.4H313.5V184.4H313.0V184.4H312.5V184.4H312.0V180.7H311.5V180.9H311.0V201.1H310.5V201.1H310.0V201.1H309.5V201.1H309.0V201.1H308.5V196.6H308.0V196.6H307.5V196.6H307.0V190.0H306.5V190.0H306.0V205.6H305.5V205.6H305.0V205.6H304.5V205.6H304.0V205.6H303.5V184.6H303.0V184.6H302.5V184.6H302.0V184.6H301.5V189.8H301.0V189.8H300.5V189.8H300.0V189.8H299.5V189.8H299.0V188.4H298.5V188.4H298.0V207.8H297.5V207.8H297.0V207.8H296.5V207.8H296.0V207.8H295.5V188.1H295.0V188.1H294.5V195.0H294.0V195.0H293.5V195.0H293.0V195.0H292.5V195.0H292.0V189.3H291.5V189.3H291.0V176.3H290.5V206.8H290.0V206.8H289.5V206.8H289.0V206.8H288.5V206.8H288.0V200.6H287.5V200.6H287.0V200.6H286.5V200.6H286.0V199.3H285.5V187.7H285.0V187.7H284.5V189.1H284.0V189.1H283.5V189.1H283.0V189.1H282.5V190.6H282.0V190.6H281.5V193.2H281.0V198.9H280.5V198.9H280.0V198.9H279.5V198.9H279.0V198.9H278.5V194.6H278.0V194.6H277.5V194.6H277.0V194.6H276.5V201.8H276.0V201.8H275.5V201.8H275.0V201.8H274.5V201.8H274.0V193.5H273.5V192.8H273.0V192.8H272.5V182.2H272.0V192.3H271.5V192.3H271.0V192.3H270.5V192.3H270.0V192.3H269.5V187.2H269.0V187.2H268.5V206.2H268.0V206.2H267.5V216.3H267.0V216.3H266.5V216.3H266.0V216.3H265.5V216.3H265.0V190.7H264.5V194.8H264.0V194.8H263.5V194.8H263.0V194.8H262.5V194.8H262.0V193.7H261.5V193.7H261.0V193.7H260.5V193.7H260.0V187.3H259.5V185.8H259.0V183.3H258.5V183.3H258.0V188.3H257.5V189.7H257.0V189.7H256.5V202.2H256.0V202.2H255.5V202.2H255.0V202.2H254.5V202.2H254.0V179.6H253.5V190.8H253.0V190.8H252.5V190.8H252.0V190.8H251.5V190.8H251.0V190.5H250.5V190.5H250.0V181.5H249.5V181.5H249.0V188.0H248.5V191.3H248.0V191.3H247.5V191.3H247.0V191.3H246.5V218.2H246.0V218.2H245.5V218.2H245.0V218.2H244.5V218.2H244.0V189.3H243.5V189.3H243.0V189.3H242.5V189.3H242.0V187.8H241.5V187.8H241.0V187.8H240.5V199.8H240.0V199.8H239.5V199.8H239.0V199.8H238.5V199.8H238.0V184.6H237.5V193.4H237.0V193.4H236.5V205.2H236.0V205.2H235.5V205.2H235.0V205.2H234.5V205.2H234.0V195.6H233.5V195.7H233.0V195.7H232.5V195.7H232.0V195.7H231.5V195.7H231.0V179.4H230.5V181.5H230.0V204.4H229.5V204.4H229.0V204.4H228.5V204.4H228.0V204.4H227.5V186.5H227.0V186.5H226.5V186.5H226.0V186.5H225.5V180.6H225.0V180.6H224.5V191.5H224.0V191.5H223.5V191.5H223.0V191.5H222.5V191.5H222.0V190.9H221.5V190.9H221.0V190.9H220.5V190.9H220.0V203.8H219.5V203.8H219.0V203.8H218.5V203.8H218.0V203.8H217.5V193.8H217.0V193.8H216.5V192.1H216.0V192.1H215.5V192.1H215.0V191.3H214.5V195.3H214.0V195.3H213.5V195.3H213.0V201.3H212.5V201.3H212.0V201.3H211.5V201.3H211.0V201.3H210.5V187.1H210.0V187.2H209.5V187.2H209.0V187.2H208.5V187.2H208.0V187.2H207.5V186.8H207.0V186.1H206.5V186.5H206.0V190.9H205.5V215.7H205.0V215.7H204.5V215.7H204.0V215.7H203.5V215.7H203.0V201.3H202.5V201.3H202.0V188.4H201.5V188.4H201.0V186.9H200.5V186.9H200.0V198.7H199.5V198.7H199.0V217.2H198.5V217.2H198.0V217.2H197.5V217.2H197.0V217.2H196.5V195.9H196.0V195.9H195.5V195.9H195.0V195.9H194.5V195.9H194.0V190.8H193.5V196.6H193.0V196.6H192.5V196.6H192.0V196.6H191.5V196.6H191.0V187.3H190.5V186.7H190.0V186.7H189.5V187.8H189.0V196.3H188.5V218.8H188.0V218.8H187.5V218.8H187.0V218.8H186.5V218.8H186.0V191.2H185.5V191.2H185.0V183.9H184.5V183.9H184.0V183.8H183.5V183.8H183.0V183.8H182.5V182.9H182.0V202.1H181.5V202.1H181.0V202.1H180.5V202.1H180.0V202.1H179.5V199.4H179.0V199.4H178.5V199.4H178.0V196.7H177.5V196.7H177.0V196.7H176.5V196.6H176.0V196.6H175.5V190.9H175.0V190.9H174.5V192.7H174.0V192.7H173.5V192.7H173.0V199.9H172.5V199.9H172.0V199.9H171.5V199.9H171.0V199.9H170.5V202.0H170.0V202.0H169.5V202.0H169.0V203.1H168.5V203.1H168.0V203.1H167.5V203.1H167.0V203.1H166.5V200.0H166.0V200.0H165.5V200.0H165.0V200.0H164.5V200.0H164.0V190.9H163.5V188.8H163.0V188.8H162.5V211.6H162.0V211.6H161.5V211.6H161.0V211.6H160.5V211.6H160.0V190.3H159.5V190.3H159.0V190.3H158.5V190.3H158.0V190.3H157.5V180.5H157.0V180.5H156.5V180.5H156.0V180.5H155.5V195.8H155.0V195.8H154.5V195.8H154.0V195.8H153.5V195.8H153.0V193.1H152.5V193.1H152.0V193.1H151.5V193.1H151.0V183.5H150.5V183.5H150.0V186.9H149.5V193.7H149.0V201.8H148.5V201.8H148.0V201.8H147.5V201.8H147.0V201.8H146.5V176.7H146.0V176.7H145.5V186.8H145.0V195.7H144.5V195.7H144.0V195.7H143.5V195.7H143.0V195.7H142.5V182.2H142.0V182.2H141.5V182.2H141.0V182.2H140.5V194.5H140.0V194.5H139.5V194.5H139.0V194.5H138.5V198.9H138.0V198.9H137.5V198.9H137.0V198.9H136.5V198.9H136.0V204.1H135.5V204.1H135.0V204.1H134.5V204.1H134.0V204.1H133.5V204.1H133.0V204.1H132.5V204.1H132.0V196.7H131.5V196.7H131.0V179.5H130.5V183.8H130.0V213.5H129.5V213.5H129.0V213.5H128.5V213.5H128.0V213.5H127.5V186.2H127.0V194.4H126.5V194.4H126.0V194.4H125.5V194.4H125.0V194.4H124.5V188.5H124.0V190.5H123.5V190.5H123.0V190.5H122.5V190.5H122.0V190.5H121.5V190.5H121.0V190.5H120.5V191.6H120.0V191.6H119.5V196.8H119.0V196.8H118.5V196.8H118.0V196.8H117.5V196.8H117.0V193.6H116.5V181.6H116.0V197.5H115.5V197.5H115.0V197.5H114.5V197.5H114.0V197.5H113.5V187.3H113.0V187.3H112.5V187.3H112.0V187.3H111.5V187.3H111.0V184.1H110.5V184.1H110.0V184.1H109.5V200.0H109.0V200.0H108.5V200.0H108.0V200.0H107.5V200.0H107.0V188.4H106.5V187.2H106.0V199.8H105.5V199.8H105.0V199.8H104.5V199.8H104.0V199.8H103.5V189.3H103.0V189.3H102.5V189.3H102.0V189.3H101.5V190.9H101.0V190.9H100.5V190.9H100.0V204.4H99.5V204.4H99.0V204.4H98.5V204.4H98.0V204.4H97.5V194.9H97.0V194.9H96.5V194.9H96.0V194.9H95.5V194.9H95.0V192.1H94.5V192.1H94.0V185.9H93.5V171.4H93.0V174.4H92.5V174.4H92.0V177.3H91.5V177.3H91.0V185.7H90.5V185.7H90.0V195.4H89.5V195.4H89.0V195.4H88.5V195.4H88.0V195.4H87.5V196.2H87.0V196.2H86.5V196.2H86.0V196.2H85.5V196.2H85.0V181.8H84.5V176.4H84.0V192.3H83.5V192.3H83.0V192.3H82.5V192.3H82.0V192.3H81.5V185.7H81.0V182.4H80.5V186.6H80.0V186.6H79.5V191.3H79.0V191.3H78.5V191.3H78.0V191.3H77.5V202.8H77.0V202.8H76.5V202.8H76.0V202.8H75.5V202.8H75.0V182.7H74.5V186.9H74.0V186.9H73.5V229.8H73.0V229.8H72.5V229.8H72.0V229.8H71.5V229.8H71.0V184.1H70.5V177.6H70.0V191.2H69.5V191.2H69.0V196.6H68.5V196.6H68.0V196.6H67.5V196.6H67.0V196.6H66.5V213.5H66.0V213.5H65.5V213.5H65.0V213.5H64.5V213.5H64.0V188.9H63.5V188.9H63.0V205.2H62.5V205.2H62.0V205.2H61.5V205.2H61.0V205.2H60.5V189.0H60.0V181.6H59.5V190.0H59.0V190.0H58.5V190.0H58.0V190.0H57.5V190.0H57.0V182.8H56.5V182.8H56.0V182.8H55.5V182.8H55.0V182.8H54.5V179.6H54.0V188.2H53.5V188.2H53.0V188.2H52.5V194.3H52.0V194.3H51.5V194.3H51.0V194.3H50.5V194.3H50.0V190.4H49.5V190.4H49.0V190.4H48.5V190.4H48.0V190.4H47.5V188.3H47.0V188.3H46.5V188.3H46.0V198.0H45.5V198.0H45.0V198.0H44.5V198.0H44.0V198.0H43.5V187.4H43.0V187.4H42.5V197.8H42.0V197.8H41.5V197.8H41.0V197.8H40.5V197.8H40.0V193.7H39.5V193.7H39.0V193.7H38.5V187.2H38.0V187.2H37.5Z" fill="#C0504D"/>
<line x1="692.7" y1="44.0" x2="1245.3" y2="44.0" stroke="#8a8a8a" stroke-width="1.15"/>
<line x1="692.7" y1="94.0" x2="1245.3" y2="94.0" stroke="#8a8a8a" stroke-width="1.15"/>
<line x1="692.7" y1="144.1" x2="1245.3" y2="144.1" stroke="#8a8a8a" stroke-width="1.15"/>
<line x1="692.7" y1="194.1" x2="1245.3" y2="194.1" stroke="#8a8a8a" stroke-width="1.15"/>
<line x1="692.7" y1="244.1" x2="1245.3" y2="244.1" stroke="#8a8a8a" stroke-width="1.15"/>
<line x1="698.2" y1="44.0" x2="698.2" y2="249.1" stroke="#9a9a9a" stroke-width="1.6"/>
<line x1="698.2" y1="244.1" x2="1245.3" y2="244.1" stroke="#858585" stroke-width="1.6"/>
<line x1="698.2" y1="244.1" x2="698.2" y2="249.1" stroke="#9a9a9a" stroke-width="1.4"/>
<text class="lab" x="698.2" y="262.1" text-anchor="middle">0</text>
<line x1="766.6" y1="244.1" x2="766.6" y2="249.1" stroke="#9a9a9a" stroke-width="1.4"/>
<text class="lab" x="766.6" y="262.1" text-anchor="middle">1,000</text>
<line x1="835.0" y1="244.1" x2="835.0" y2="249.1" stroke="#9a9a9a" stroke-width="1.4"/>
<text class="lab" x="835.0" y="262.1" text-anchor="middle">2,000</text>
<line x1="903.4" y1="244.1" x2="903.4" y2="249.1" stroke="#9a9a9a" stroke-width="1.4"/>
<text class="lab" x="903.4" y="262.1" text-anchor="middle">3,000</text>
<line x1="971.8" y1="244.1" x2="971.8" y2="249.1" stroke="#9a9a9a" stroke-width="1.4"/>
<text class="lab" x="971.8" y="262.1" text-anchor="middle">4,000</text>
<line x1="1040.1" y1="244.1" x2="1040.1" y2="249.1" stroke="#9a9a9a" stroke-width="1.4"/>
<text class="lab" x="1040.1" y="262.1" text-anchor="middle">5,000</text>
<line x1="1108.5" y1="244.1" x2="1108.5" y2="249.1" stroke="#9a9a9a" stroke-width="1.4"/>
<text class="lab" x="1108.5" y="262.1" text-anchor="middle">6,000</text>
<line x1="1176.9" y1="244.1" x2="1176.9" y2="249.1" stroke="#9a9a9a" stroke-width="1.4"/>
<text class="lab" x="1176.9" y="262.1" text-anchor="middle">7,000</text>
<line x1="1245.3" y1="244.1" x2="1245.3" y2="249.1" stroke="#9a9a9a" stroke-width="1.4"/>
<text class="lab" x="1245.3" y="262.1" text-anchor="middle">8,000</text>
<text class="lab" x="687.2" y="47.4" text-anchor="end">10</text>
<text class="lab" x="687.2" y="97.4" text-anchor="end">8</text>
<text class="lab" x="687.2" y="147.5" text-anchor="end">6</text>
<text class="lab" x="687.2" y="197.5" text-anchor="end">4</text>
<text class="lab" x="687.2" y="247.5" text-anchor="end">2</text>
<path d="M697.7 161.1H698.2V154.1H698.7V154.1H699.2V154.1H699.7V154.1H700.2V154.1H700.7V168.4H701.2V162.0H701.7V162.0H702.2V162.0H702.7V162.0H703.2V162.0H703.7V162.5H704.2V170.3H704.7V170.3H705.2V170.3H705.7V171.7H706.2V172.7H706.7V172.2H707.2V172.2H707.7V172.2H708.2V172.2H708.7V165.4H709.2V158.3H709.7V158.3H710.2V158.3H710.7V85.8H711.2V85.8H711.7V85.8H712.2V85.8H712.7V85.8H713.2V168.0H713.7V171.5H714.2V175.6H714.7V174.3H715.2V174.3H715.7V174.3H716.2V168.7H716.7V168.7H717.2V168.7H717.7V168.7H718.2V168.7H718.7V179.1H719.2V158.7H719.7V158.7H720.2V158.7H720.7V158.7H721.2V148.2H721.7V148.2H722.2V148.2H722.7V148.2H723.2V148.2H723.7V162.1H724.2V162.1H724.7V168.9H725.2V168.9H725.7V168.9H726.2V173.0H726.7V174.2H727.2V172.9H727.7V172.9H728.2V172.9H728.7V170.1H729.2V170.1H729.7V170.1H730.2V170.1H730.7V161.6H731.2V161.6H731.7V161.6H732.2V161.6H732.7V161.6H733.2V165.1H733.7V165.1H734.2V165.1H734.7V165.1H735.2V172.4H735.7V147.0H736.2V147.0H736.7V147.0H737.2V147.0H737.7V147.0H738.2V167.0H738.7V167.0H739.2V169.8H739.7V157.3H740.2V157.3H740.7V157.3H741.2V157.3H741.7V157.3H742.2V160.7H742.7V160.7H743.2V160.7H743.7V160.7H744.2V163.9H744.7V163.9H745.2V164.4H745.7V170.7H746.2V170.7H746.7V163.7H747.2V163.7H747.7V163.7H748.2V163.3H748.7V163.3H749.2V163.3H749.7V148.7H750.2V148.7H750.7V148.7H751.2V148.7H751.7V148.7H752.2V167.2H752.7V147.0H753.2V147.0H753.7V147.0H754.2V147.0H754.7V147.0H755.2V155.3H755.7V155.3H756.2V169.5H756.7V171.0H757.2V171.0H757.7V171.0H758.2V174.4H758.7V171.6H759.2V158.1H759.7V158.1H760.2V158.1H760.7V158.1H761.2V158.1H761.7V161.1H762.2V161.1H762.7V161.1H763.2V164.9H763.7V169.6H764.2V123.4H764.7V123.4H765.2V123.4H765.7V123.4H766.2V123.4H766.7V147.8H767.2V147.8H767.7V153.5H768.2V153.5H768.7V153.5H769.2V162.6H769.7V152.4H770.2V152.4H770.7V152.4H771.2V152.4H771.7V152.4H772.2V169.3H772.7V169.3H773.2V169.3H773.7V171.5H774.2V171.5H774.7V140.0H775.2V140.0H775.7V140.0H776.2V140.0H776.7V140.0H777.2V160.3H777.7V160.3H778.2V160.3H778.7V169.0H779.2V161.5H779.7V161.5H780.2V161.5H780.7V161.5H781.2V161.5H781.7V173.5H782.2V143.2H782.7V143.2H783.2V143.2H783.7V143.2H784.2V143.2H784.7V153.9H785.2V154.1H785.7V154.1H786.2V154.1H786.7V163.2H787.2V154.3H787.7V154.3H788.2V154.3H788.7V154.3H789.2V154.3H789.7V162.7H790.2V162.7H790.7V134.4H791.2V134.4H791.7V134.4H792.2V134.4H792.7V134.4H793.2V164.5H793.7V164.5H794.2V164.5H794.7V165.8H795.2V166.0H795.7V169.3H796.2V162.9H796.7V162.9H797.2V162.9H797.7V162.9H798.2V162.9H798.7V166.2H799.2V155.1H799.7V155.1H800.2V155.1H800.7V155.1H801.2V155.1H801.7V124.0H802.2V124.0H802.7V124.0H803.2V124.0H803.7V124.0H804.2V161.4H804.7V161.4H805.2V161.4H805.7V171.6H806.2V166.8H806.7V161.4H807.2V161.4H807.7V161.4H808.2V161.4H808.7V161.4H809.2V164.6H809.7V164.6H810.2V161.9H810.7V161.9H811.2V161.9H811.7V155.9H812.2V155.9H812.7V155.9H813.2V154.5H813.7V154.5H814.2V132.8H814.7V132.8H815.2V132.8H815.7V132.8H816.2V132.8H816.7V158.0H817.2V158.0H817.7V158.0H818.2V159.3H818.7V160.0H819.2V160.0H819.7V158.7H820.2V158.7H820.7V158.7H821.2V158.7H821.7V158.7H822.2V159.3H822.7V159.3H823.2V165.2H823.7V170.9H824.2V172.4H824.7V170.0H825.2V170.0H825.7V164.7H826.2V164.7H826.7V164.7H827.2V164.7H827.7V164.7H828.2V171.1H828.7V172.1H829.2V172.1H829.7V174.0H830.2V174.0H830.7V174.0H831.2V168.8H831.7V168.8H832.2V168.8H832.7V168.8H833.2V168.8H833.7V170.8H834.2V161.6H834.7V161.6H835.2V161.6H835.7V161.6H836.2V161.6H836.7V172.5H837.2V167.2H837.7V167.2H838.2V167.2H838.7V167.2H839.2V135.3H839.7V135.3H840.2V135.3H840.7V135.3H841.2V135.3H841.7V167.3H842.2V167.3H842.7V167.3H843.2V166.4H843.7V166.4H844.2V166.4H844.7V166.4H845.2V166.4H845.7V171.7H846.2V171.1H846.7V171.1H847.2V170.0H847.7V170.0H848.2V170.0H848.7V159.2H849.2V159.2H849.7V159.2H850.2V159.2H850.7V159.2H851.2V163.4H851.7V163.4H852.2V163.4H852.7V163.4H853.2V171.0H853.7V171.0H854.2V169.3H854.7V169.3H855.2V166.7H855.7V163.5H856.2V163.5H856.7V161.7H857.2V161.7H857.7V161.0H858.2V161.0H858.7V161.0H859.2V147.0H859.7V147.0H860.2V147.0H860.7V147.0H861.2V147.0H861.7V165.6H862.2V165.6H862.7V170.3H863.2V170.3H863.7V174.3H864.2V155.5H864.7V155.5H865.2V155.5H865.7V155.5H866.2V155.5H866.7V162.1H867.2V162.1H867.7V159.8H868.2V147.0H868.7V147.0H869.2V147.0H869.7V147.0H870.2V147.0H870.7V164.8H871.2V164.8H871.7V164.8H872.2V162.4H872.7V162.4H873.2V162.4H873.7V162.4H874.2V162.4H874.7V167.8H875.2V159.0H875.7V159.0H876.2V159.0H876.7V159.0H877.2V159.0H877.7V148.9H878.2V148.9H878.7V148.9H879.2V138.1H879.7V138.1H880.2V138.1H880.7V138.1H881.2V138.1H881.7V170.9H882.2V170.9H882.7V170.9H883.2V161.7H883.7V161.7H884.2V161.7H884.7V161.7H885.2V161.7H885.7V173.1H886.2V173.1H886.7V172.0H887.2V172.0H887.7V165.5H888.2V165.5H888.7V165.5H889.2V165.5H889.7V165.5H890.2V168.3H890.7V168.3H891.2V168.3H891.7V168.3H892.2V169.0H892.7V169.0H893.2V169.0H893.7V169.0H894.2V173.8H894.7V166.6H895.2V166.6H895.7V166.6H896.2V161.7H896.7V161.7H897.2V161.7H897.7V161.7H898.2V161.7H898.7V175.9H899.2V175.9H899.7V167.4H900.2V167.4H900.7V167.4H901.2V167.4H901.7V167.4H902.2V172.8H902.7V172.8H903.2V169.4H903.7V169.4H904.2V169.4H904.7V162.2H905.2V154.8H905.7V154.8H906.2V154.8H906.7V154.8H907.2V154.8H907.7V175.3H908.2V172.3H908.7V165.9H909.2V165.9H909.7V165.9H910.2V165.9H910.7V165.9H911.2V166.3H911.7V166.3H912.2V166.3H912.7V166.1H913.2V166.1H913.7V166.1H914.2V166.1H914.7V166.1H915.2V169.1H915.7V169.1H916.2V169.1H916.7V168.1H917.2V163.5H917.7V163.5H918.2V133.4H918.7V133.4H919.2V133.4H919.7V133.4H920.2V133.4H920.7V163.1H921.2V157.0H921.7V147.0H922.2V147.0H922.7V147.0H923.2V147.0H923.7V147.0H924.2V176.5H924.7V157.9H925.2V157.9H925.7V155.2H926.2V155.2H926.7V155.2H927.2V155.2H927.7V155.2H928.2V147.0H928.7V147.0H929.2V147.0H929.7V147.0H930.2V147.0H930.7V169.1H931.2V169.1H931.7V169.1H932.2V135.9H932.7V135.9H933.2V135.9H933.7V135.9H934.2V135.9H934.7V168.5H935.2V168.5H935.7V168.4H936.2V140.0H936.7V140.0H937.2V140.0H937.7V140.0H938.2V118.7H938.7V118.7H939.2V118.7H939.7V118.7H940.2V118.7H940.7V157.9H941.2V157.9H941.7V157.9H942.2V157.9H942.7V157.9H943.2V171.3H943.7V175.2H944.2V175.2H944.7V156.6H945.2V156.6H945.7V156.6H946.2V156.6H946.7V156.6H947.2V175.8H947.7V163.2H948.2V163.2H948.7V163.2H949.2V163.2H949.7V163.2H950.2V167.2H950.7V167.2H951.2V167.2H951.7V167.2H952.2V165.6H952.7V165.6H953.2V155.8H953.7V155.8H954.2V154.5H954.7V154.5H955.2V154.5H955.7V154.5H956.2V154.5H956.7V164.1H957.2V164.1H957.7V164.1H958.2V158.5H958.7V158.5H959.2V158.5H959.7V158.5H960.2V158.5H960.7V160.4H961.2V160.4H961.7V160.4H962.2V160.4H962.7V167.7H963.2V167.7H963.7V167.7H964.2V167.7H964.7V167.7H965.2V147.5H965.7V147.5H966.2V147.5H966.7V147.5H967.2V147.5H967.7V166.2H968.2V166.2H968.7V170.7H969.2V170.7H969.7V170.7H970.2V166.5H970.7V166.5H971.2V161.8H971.7V161.8H972.2V156.7H972.7V156.7H973.2V156.7H973.7V156.7H974.2V156.7H974.7V162.8H975.2V162.8H975.7V165.8H976.2V164.0H976.7V164.0H977.2V164.0H977.7V164.0H978.2V164.0H978.7V161.9H979.2V161.9H979.7V161.9H980.2V161.9H980.7V161.9H981.2V166.6H981.7V167.0H982.2V167.0H982.7V169.0H983.2V162.8H983.7V162.8H984.2V162.8H984.7V162.8H985.2V150.2H985.7V150.2H986.2V150.2H986.7V150.2H987.2V150.2H987.7V165.2H988.2V165.2H988.7V165.2H989.2V165.2H989.7V165.2H990.2V165.9H990.7V165.9H991.2V165.9H991.7V165.9H992.2V168.1H992.7V168.1H993.2V168.1H993.7V168.1H994.2V170.5H994.7V170.5H995.2V163.8H995.7V160.9H996.2V160.9H996.7V160.9H997.2V160.9H997.7V160.9H998.2V170.7H998.7V173.1H999.2V170.8H999.7V170.8H1000.2V170.8H1000.7V115.6H1001.2V115.6H1001.7V115.6H1002.2V115.6H1002.7V115.6H1003.2V174.7H1003.7V174.7H1004.2V174.7H1004.7V177.2H1005.2V177.2H1005.7V175.2H1006.2V175.2H1006.7V167.2H1007.2V167.2H1007.7V167.2H1008.2V167.2H1008.7V165.7H1009.2V165.7H1009.7V162.3H1010.2V162.3H1010.7V140.0H1011.2V140.0H1011.7V140.0H1012.2V140.0H1012.7V140.0H1013.2V158.4H1013.7V158.4H1014.2V158.4H1014.7V158.4H1015.2V147.0H1015.7V147.0H1016.2V147.0H1016.7V147.0H1017.2V147.0H1017.7V160.3H1018.2V160.3H1018.7V160.3H1019.2V160.4H1019.7V160.4H1020.2V160.4H1020.7V160.4H1021.2V170.5H1021.7V171.9H1022.2V161.7H1022.7V161.7H1023.2V154.8H1023.7V144.4H1024.2V144.4H1024.7V144.4H1025.2V144.4H1025.7V144.4H1026.2V170.9H1026.7V168.4H1027.2V165.8H1027.7V165.8H1028.2V165.8H1028.7V165.8H1029.2V165.8H1029.7V166.0H1030.2V166.0H1030.7V166.0H1031.2V166.0H1031.7V166.0H1032.2V169.5H1032.7V164.1H1033.2V164.1H1033.7V164.1H1034.2V164.1H1034.7V164.1H1035.2V172.5H1035.7V172.5H1036.2V159.2H1036.7V159.2H1037.2V159.2H1037.7V159.2H1038.2V159.2H1038.7V174.6H1039.2V164.9H1039.7V164.9H1040.2V164.9H1040.7V164.9H1041.2V164.9H1041.7V166.4H1042.2V165.8H1042.7V165.8H1043.2V165.8H1043.7V165.8H1044.2V165.8H1044.7V164.5H1045.2V164.5H1045.7V164.5H1046.2V164.5H1046.7V164.5H1047.2V169.1H1047.7V170.1H1048.2V170.1H1048.7V170.1H1049.2V172.6H1049.7V172.6H1050.2V166.7H1050.7V166.7H1051.2V144.4H1051.7V144.4H1052.2V144.4H1052.7V144.4H1053.2V144.4H1053.7V171.9H1054.2V171.9H1054.7V169.0H1055.2V169.0H1055.7V169.0H1056.2V169.0H1056.7V169.0H1057.2V171.6H1057.7V160.7H1058.2V160.7H1058.7V160.7H1059.2V160.7H1059.7V160.7H1060.2V171.9H1060.7V171.9H1061.2V136.9H1061.7V136.9H1062.2V136.9H1062.7V136.9H1063.2V136.9H1063.7V160.1H1064.2V160.1H1064.7V160.1H1065.2V160.1H1065.7V160.1H1066.2V171.9H1066.7V172.4H1067.2V164.6H1067.7V164.6H1068.2V164.6H1068.7V164.6H1069.2V164.6H1069.7V165.8H1070.2V174.7H1070.7V171.3H1071.2V171.3H1071.7V171.3H1072.2V171.3H1072.7V171.3H1073.2V173.2H1073.7V173.2H1074.2V173.2H1074.7V173.2H1075.2V173.2H1075.7V164.0H1076.2V164.0H1076.7V164.0H1077.2V164.0H1077.7V164.0H1078.2V169.1H1078.7V165.5H1079.2V165.5H1079.7V165.5H1080.2V165.5H1080.7V165.5H1081.2V170.6H1081.7V170.6H1082.2V170.6H1082.7V171.8H1083.2V164.3H1083.7V164.3H1084.2V164.3H1084.7V164.3H1085.2V163.9H1085.7V163.9H1086.2V159.9H1086.7V149.6H1087.2V149.6H1087.7V149.6H1088.2V149.6H1088.7V149.6H1089.2V173.5H1089.7V174.8H1090.2V173.2H1090.7V173.2H1091.2V173.2H1091.7V150.2H1092.2V150.2H1092.7V150.2H1093.2V150.2H1093.7V150.2H1094.2V165.0H1094.7V165.0H1095.2V162.2H1095.7V162.2H1096.2V162.2H1096.7V162.2H1097.2V162.2H1097.7V162.3H1098.2V162.3H1098.7V162.3H1099.2V159.4H1099.7V159.4H1100.2V159.4H1100.7V159.4H1101.2V159.4H1101.7V166.7H1102.2V166.7H1102.7V166.7H1103.2V166.7H1103.7V166.7H1104.2V172.0H1104.7V170.7H1105.2V170.7H1105.7V170.7H1106.2V154.5H1106.7V154.5H1107.2V147.0H1107.7V147.0H1108.2V147.0H1108.7V147.0H1109.2V147.0H1109.7V147.0H1110.2V168.7H1110.7V168.9H1111.2V165.8H1111.7V165.8H1112.2V165.8H1112.7V165.8H1113.2V165.8H1113.7V165.9H1114.2V164.8H1114.7V164.8H1115.2V148.1H1115.7V148.1H1116.2V148.1H1116.7V148.1H1117.2V148.1H1117.7V157.8H1118.2V157.8H1118.7V157.8H1119.2V160.6H1119.7V160.6H1120.2V160.6H1120.7V160.6H1121.2V164.4H1121.7V164.4H1122.2V164.4H1122.7V164.4H1123.2V171.4H1123.7V171.4H1124.2V166.7H1124.7V153.1H1125.2V152.2H1125.7V152.2H1126.2V152.2H1126.7V152.2H1127.2V152.2H1127.7V160.0H1128.2V160.0H1128.7V160.0H1129.2V160.0H1129.7V160.0H1130.2V165.5H1130.7V156.4H1131.2V156.4H1131.7V156.4H1132.2V156.4H1132.7V123.4H1133.2V123.4H1133.7V123.4H1134.2V123.4H1134.7V123.4H1135.2V157.8H1135.7V157.8H1136.2V157.8H1136.7V157.8H1137.2V157.8H1137.7V168.7H1138.2V168.7H1138.7V174.4H1139.2V172.8H1139.7V172.8H1140.2V172.8H1140.7V172.8H1141.2V172.8H1141.7V173.0H1142.2V161.4H1142.7V161.4H1143.2V159.6H1143.7V159.6H1144.2V159.6H1144.7V159.6H1145.2V159.6H1145.7V168.1H1146.2V171.5H1146.7V167.6H1147.2V167.6H1147.7V167.6H1148.2V167.6H1148.7V167.6H1149.2V165.3H1149.7V165.3H1150.2V165.3H1150.7V165.3H1151.2V165.3H1151.7V168.3H1152.2V168.3H1152.7V168.3H1153.2V168.3H1153.7V158.6H1154.2V158.6H1154.7V156.3H1155.2V156.3H1155.7V156.3H1156.2V156.3H1156.7V156.3H1157.2V155.5H1157.7V155.5H1158.2V155.5H1158.7V155.5H1159.2V155.5H1159.7V163.9H1160.2V153.1H1160.7V153.1H1161.2V153.1H1161.7V153.1H1162.2V153.1H1162.7V155.5H1163.2V155.5H1163.7V155.5H1164.2V164.0H1164.7V164.0H1165.2V164.0H1165.7V164.4H1166.2V169.4H1166.7V169.7H1167.2V164.7H1167.7V164.7H1168.2V160.2H1168.7V160.2H1169.2V150.4H1169.7V150.4H1170.2V150.4H1170.7V150.4H1171.2V150.4H1171.7V166.5H1172.2V166.5H1172.7V166.5H1173.2V167.7H1173.7V152.2H1174.2V152.2H1174.7V152.2H1175.2V152.2H1175.7V152.2H1176.2V154.5H1176.7V154.5H1177.2V154.5H1177.7V161.1H1178.2V161.1H1178.7V161.1H1179.2V161.1H1179.7V156.8H1180.2V156.8H1180.7V156.8H1181.2V156.8H1181.7V156.8H1182.2V176.0H1182.7V163.9H1183.2V163.9H1183.7V163.9H1184.2V162.4H1184.7V162.4H1185.2V162.4H1185.7V162.4H1186.2V162.4H1186.7V166.9H1187.2V166.9H1187.7V166.9H1188.2V172.4H1188.7V170.8H1189.2V164.5H1189.7V133.7H1190.2V133.7H1190.7V133.7H1191.2V133.7H1191.7V133.7H1192.2V163.8H1192.7V163.8H1193.2V163.8H1193.7V163.8H1194.2V178.2H1194.7V175.7H1195.2V175.7H1195.7V147.5H1196.2V147.5H1196.7V147.5H1197.2V135.3H1197.7V135.3H1198.2V135.3H1198.7V135.3H1199.2V135.3H1199.7V159.3H1200.2V159.3H1200.7V159.3H1201.2V159.3H1201.7V159.3H1202.2V172.7H1202.7V166.1H1203.2V166.1H1203.7V166.1H1204.2V166.1H1204.7V166.1H1205.2V168.5H1205.7V168.7H1206.2V157.7H1206.7V157.7H1207.2V157.7H1207.7V157.7H1208.2V157.7H1208.7V165.2H1209.2V165.2H1209.7V165.2H1210.2V165.2H1210.7V165.2H1211.2V167.3H1211.7V167.3H1212.2V167.3H1212.7V167.3H1213.2V168.4H1213.7V168.4H1214.2V168.4H1214.7V171.9H1215.2V168.6H1215.7V168.6H1216.2V168.6H1216.7V168.6H1217.2V159.7H1217.7V159.7H1218.2V159.7H1218.7V159.7H1219.2V159.7H1219.7V147.0H1220.2V147.0H1220.7V147.0H1221.2V147.0H1221.7V147.0H1222.2V161.8H1222.7V161.8H1223.2V161.8H1223.7V161.8H1224.2V161.1H1224.7V161.1H1225.2V160.6H1225.7V160.6H1226.2V160.6H1226.7V160.6H1227.2V160.6H1227.7V169.7H1228.2V169.7H1228.7V169.1H1229.2V169.1H1229.7V169.1H1230.2V162.8H1230.7V162.8H1231.2V162.8H1231.7V162.8H1232.2V162.8H1232.7V171.5H1233.2V157.5H1233.7V157.5H1234.2V157.5H1234.7V157.5H1235.2V157.5H1235.7V167.0H1236.2V167.0H1236.7V153.9H1237.2V153.9H1237.7V153.9H1238.2V153.9H1238.7V153.9H1239.2V167.5H1239.7V167.5H1240.2V165.7H1240.7V165.7H1241.2V165.7H1241.7V165.7H1242.2V165.7H1242.7V174.3H1243.2V173.0H1243.7V173.0H1244.2V173.0H1244.7V173.0H1245.2V173.0H1245.7V177.3H1246.2V216.2H1245.7V216.2H1245.2V216.2H1244.7V216.2H1244.2V217.8H1243.7V217.8H1243.2V217.8H1242.7V217.8H1242.2V217.8H1241.7V215.7H1241.2V215.7H1240.7V215.7H1240.2V215.7H1239.7V215.7H1239.2V213.4H1238.7V213.4H1238.2V211.5H1237.7V211.5H1237.2V211.4H1236.7V211.4H1236.2V211.4H1235.7V211.4H1235.2V214.3H1234.7V214.3H1234.2V214.3H1233.7V214.3H1233.2V214.3H1232.7V213.8H1232.2V211.5H1231.7V211.5H1231.2V219.0H1230.7V219.0H1230.2V219.0H1229.7V219.0H1229.2V219.0H1228.7V214.1H1228.2V214.1H1227.7V216.2H1227.2V216.2H1226.7V216.2H1226.2V216.2H1225.7V216.2H1225.2V215.4H1224.7V217.0H1224.2V217.0H1223.7V217.0H1223.2V217.0H1222.7V217.0H1222.2V216.4H1221.7V216.4H1221.2V216.4H1220.7V216.4H1220.2V214.3H1219.7V214.3H1219.2V214.3H1218.7V214.3H1218.2V214.3H1217.7V212.3H1217.2V219.2H1216.7V219.2H1216.2V219.2H1215.7V219.2H1215.2V219.2H1214.7V211.3H1214.2V213.9H1213.7V215.0H1213.2V215.0H1212.7V216.3H1212.2V216.3H1211.7V216.3H1211.2V216.3H1210.7V216.3H1210.2V213.1H1209.7V213.1H1209.2V213.1H1208.7V211.1H1208.2V211.6H1207.7V214.3H1207.2V216.9H1206.7V216.9H1206.2V216.9H1205.7V216.9H1205.2V216.9H1204.7V212.9H1204.2V212.9H1203.7V212.9H1203.2V212.9H1202.7V212.9H1202.2V213.8H1201.7V222.0H1201.2V222.6H1200.7V222.6H1200.2V222.6H1199.7V222.6H1199.2V222.6H1198.7V216.1H1198.2V225.5H1197.7V225.5H1197.2V225.5H1196.7V225.5H1196.2V225.5H1195.7V219.3H1195.2V219.3H1194.7V219.3H1194.2V217.1H1193.7V217.1H1193.2V215.6H1192.7V216.0H1192.2V216.0H1191.7V216.0H1191.2V216.0H1190.7V216.0H1190.2V218.3H1189.7V218.3H1189.2V218.3H1188.7V218.3H1188.2V218.3H1187.7V214.6H1187.2V214.6H1186.7V214.6H1186.2V214.6H1185.7V214.6H1185.2V214.0H1184.7V214.0H1184.2V215.6H1183.7V215.6H1183.2V215.6H1182.7V215.6H1182.2V215.6H1181.7V214.4H1181.2V214.4H1180.7V213.0H1180.2V214.2H1179.7V214.2H1179.2V214.2H1178.7V215.0H1178.2V215.0H1177.7V215.0H1177.2V218.0H1176.7V218.0H1176.2V218.0H1175.7V218.0H1175.2V218.0H1174.7V216.3H1174.2V214.3H1173.7V214.3H1173.2V214.3H1172.7V213.5H1172.2V216.8H1171.7V216.8H1171.2V216.9H1170.7V216.9H1170.2V216.9H1169.7V216.9H1169.2V216.9H1168.7V211.9H1168.2V211.9H1167.7V211.9H1167.2V215.3H1166.7V216.3H1166.2V216.3H1165.7V216.3H1165.2V216.3H1164.7V216.3H1164.2V213.6H1163.7V213.6H1163.2V213.6H1162.7V213.6H1162.2V213.6H1161.7V212.9H1161.2V216.7H1160.7V216.7H1160.2V216.7H1159.7V216.7H1159.2V216.7H1158.7V214.6H1158.2V213.2H1157.7V213.2H1157.2V213.2H1156.7V213.2H1156.2V211.6H1155.7V211.6H1155.2V219.0H1154.7V219.0H1154.2V219.0H1153.7V219.0H1153.2V219.0H1152.7V212.4H1152.2V212.8H1151.7V212.8H1151.2V220.1H1150.7V220.1H1150.2V220.1H1149.7V220.1H1149.2V220.1H1148.7V218.6H1148.2V218.2H1147.7V218.2H1147.2V218.2H1146.7V219.9H1146.2V219.9H1145.7V219.9H1145.2V219.9H1144.7V219.9H1144.2V216.1H1143.7V216.1H1143.2V216.1H1142.7V216.0H1142.2V217.9H1141.7V217.9H1141.2V217.9H1140.7V218.5H1140.2V218.5H1139.7V218.5H1139.2V218.5H1138.7V219.9H1138.2V219.9H1137.7V219.9H1137.2V219.9H1136.7V219.9H1136.2V212.6H1135.7V212.6H1135.2V212.6H1134.7V207.6H1134.2V209.2H1133.7V211.1H1133.2V211.1H1132.7V214.3H1132.2V217.7H1131.7V217.7H1131.2V217.7H1130.7V217.7H1130.2V217.7H1129.7V219.8H1129.2V219.8H1128.7V219.8H1128.2V219.8H1127.7V219.8H1127.2V214.0H1126.7V214.7H1126.2V214.7H1125.7V214.7H1125.2V214.7H1124.7V214.7H1124.2V211.4H1123.7V211.4H1123.2V212.9H1122.7V212.9H1122.2V212.9H1121.7V213.0H1121.2V213.0H1120.7V213.0H1120.2V213.0H1119.7V218.1H1119.2V218.1H1118.7V218.1H1118.2V218.1H1117.7V218.1H1117.2V212.4H1116.7V212.4H1116.2V212.4H1115.7V212.4H1115.2V213.0H1114.7V213.0H1114.2V213.0H1113.7V213.0H1113.2V213.0H1112.7V216.3H1112.2V216.3H1111.7V216.3H1111.2V216.3H1110.7V216.3H1110.2V211.5H1109.7V214.9H1109.2V214.9H1108.7V214.9H1108.2V214.9H1107.7V220.5H1107.2V220.5H1106.7V220.5H1106.2V220.5H1105.7V220.5H1105.2V213.0H1104.7V213.0H1104.2V213.0H1103.7V213.0H1103.2V213.0H1102.7V213.0H1102.2V213.0H1101.7V213.0H1101.2V221.8H1100.7V221.8H1100.2V221.8H1099.7V221.8H1099.2V221.8H1098.7V210.8H1098.2V210.8H1097.7V212.0H1097.2V212.0H1096.7V212.0H1096.2V212.7H1095.7V213.7H1095.2V213.7H1094.7V214.3H1094.2V215.4H1093.7V215.4H1093.2V215.4H1092.7V215.4H1092.2V217.9H1091.7V217.9H1091.2V217.9H1090.7V217.9H1090.2V217.9H1089.7V219.0H1089.2V219.0H1088.7V219.0H1088.2V219.0H1087.7V219.0H1087.2V207.9H1086.7V207.9H1086.2V207.9H1085.7V212.3H1085.2V212.3H1084.7V212.3H1084.2V212.3H1083.7V212.3H1083.2V210.5H1082.7V210.5H1082.2V210.5H1081.7V212.8H1081.2V212.8H1080.7V218.8H1080.2V218.8H1079.7V218.8H1079.2V218.8H1078.7V218.8H1078.2V214.5H1077.7V214.5H1077.2V214.5H1076.7V214.5H1076.2V213.7H1075.7V215.6H1075.2V215.6H1074.7V215.6H1074.2V215.6H1073.7V215.6H1073.2V214.8H1072.7V211.7H1072.2V211.7H1071.7V212.3H1071.2V212.3H1070.7V212.3H1070.2V217.0H1069.7V217.0H1069.2V217.0H1068.7V217.0H1068.2V217.0H1067.7V215.6H1067.2V217.9H1066.7V217.9H1066.2V217.9H1065.7V217.9H1065.2V217.9H1064.7V209.9H1064.2V210.7H1063.7V210.7H1063.2V210.7H1062.7V210.7H1062.2V221.0H1061.7V221.0H1061.2V221.0H1060.7V221.0H1060.2V221.0H1059.7V220.1H1059.2V220.1H1058.7V216.4H1058.2V214.8H1057.7V214.8H1057.2V214.8H1056.7V214.8H1056.2V211.9H1055.7V211.9H1055.2V213.7H1054.7V213.7H1054.2V217.3H1053.7V217.3H1053.2V217.3H1052.7V217.3H1052.2V217.3H1051.7V217.0H1051.2V217.0H1050.7V217.0H1050.2V212.3H1049.7V217.3H1049.2V217.3H1048.7V217.3H1048.2V217.4H1047.7V217.4H1047.2V217.4H1046.7V217.4H1046.2V217.4H1045.7V216.6H1045.2V216.6H1044.7V216.6H1044.2V216.6H1043.7V214.9H1043.2V214.9H1042.7V213.5H1042.2V215.8H1041.7V215.8H1041.2V223.8H1040.7V223.8H1040.2V223.8H1039.7V223.8H1039.2V223.8H1038.7V216.7H1038.2V218.4H1037.7V218.4H1037.2V218.4H1036.7V218.4H1036.2V218.4H1035.7V212.9H1035.2V212.9H1034.7V212.9H1034.2V212.9H1033.7V212.2H1033.2V212.2H1032.7V212.2H1032.2V212.2H1031.7V212.2H1031.2V219.8H1030.7V219.8H1030.2V219.8H1029.7V219.8H1029.2V219.8H1028.7V218.7H1028.2V220.4H1027.7V220.4H1027.2V220.4H1026.7V220.4H1026.2V220.4H1025.7V216.4H1025.2V213.0H1024.7V215.1H1024.2V215.1H1023.7V215.1H1023.2V215.1H1022.7V215.7H1022.2V215.7H1021.7V215.7H1021.2V215.7H1020.7V215.7H1020.2V212.3H1019.7V212.9H1019.2V212.9H1018.7V212.9H1018.2V214.7H1017.7V218.4H1017.2V218.4H1016.7V218.4H1016.2V218.4H1015.7V218.4H1015.2V213.5H1014.7V213.5H1014.2V212.6H1013.7V218.7H1013.2V218.7H1012.7V218.7H1012.2V218.7H1011.7V218.7H1011.2V222.8H1010.7V222.8H1010.2V222.8H1009.7V222.8H1009.2V222.8H1008.7V219.8H1008.2V219.8H1007.7V219.8H1007.2V217.6H1006.7V217.6H1006.2V217.6H1005.7V216.5H1005.2V216.5H1004.7V216.5H1004.2V216.5H1003.7V216.5H1003.2V214.4H1002.7V214.4H1002.2V219.0H1001.7V219.0H1001.2V219.0H1000.7V219.0H1000.2V219.0H999.7V216.0H999.2V216.0H998.7V216.0H998.2V213.4H997.7V214.0H997.2V214.0H996.7V214.0H996.2V214.0H995.7V214.0H995.2V213.4H994.7V218.1H994.2V222.0H993.7V222.0H993.2V222.0H992.7V222.0H992.2V222.0H991.7V219.9H991.2V219.9H990.7V219.9H990.2V219.9H989.7V219.9H989.2V217.0H988.7V214.5H988.2V214.5H987.7V214.5H987.2V214.3H986.7V214.3H986.2V212.9H985.7V216.6H985.2V216.6H984.7V216.6H984.2V216.6H983.7V216.8H983.2V216.8H982.7V216.8H982.2V216.8H981.7V216.8H981.2V212.7H980.7V212.7H980.2V212.7H979.7V215.4H979.2V216.4H978.7V216.9H978.2V216.9H977.7V216.9H977.2V218.6H976.7V219.9H976.2V219.9H975.7V219.9H975.2V219.9H974.7V219.9H974.2V216.4H973.7V216.4H973.2V210.4H972.7V210.4H972.2V214.0H971.7V214.0H971.2V214.0H970.7V214.0H970.2V214.0H969.7V215.0H969.2V224.3H968.7V224.3H968.2V224.3H967.7V224.3H967.2V224.3H966.7V219.0H966.2V219.0H965.7V219.0H965.2V217.0H964.7V217.3H964.2V217.3H963.7V217.3H963.2V217.3H962.7V217.3H962.2V216.3H961.7V216.3H961.2V216.3H960.7V212.4H960.2V215.6H959.7V215.6H959.2V215.6H958.7V215.6H958.2V215.6H957.7V213.4H957.2V213.4H956.7V213.3H956.2V213.3H955.7V213.3H955.2V214.2H954.7V214.2H954.2V214.7H953.7V215.4H953.2V215.4H952.7V215.4H952.2V215.4H951.7V215.4H951.2V214.1H950.7V218.2H950.2V218.2H949.7V218.2H949.2V218.2H948.7V218.2H948.2V214.9H947.7V215.4H947.2V215.4H946.7V216.7H946.2V216.7H945.7V216.7H945.2V220.8H944.7V220.8H944.2V220.8H943.7V220.8H943.2V220.8H942.7V214.4H942.2V214.4H941.7V221.6H941.2V221.6H940.7V221.6H940.2V221.6H939.7V221.6H939.2V215.6H938.7V216.3H938.2V216.3H937.7V216.3H937.2V216.3H936.7V216.3H936.2V215.1H935.7V212.9H935.2V214.8H934.7V214.8H934.2V214.8H933.7V214.8H933.2V215.7H932.7V219.8H932.2V219.8H931.7V219.8H931.2V219.8H930.7V219.8H930.2V214.8H929.7V214.8H929.2V214.8H928.7V218.2H928.2V218.2H927.7V218.2H927.2V218.2H926.7V218.2H926.2V216.0H925.7V216.0H925.2V216.0H924.7V216.0H924.2V215.6H923.7V215.6H923.2V211.2H922.7V218.7H922.2V218.7H921.7V218.7H921.2V218.7H920.7V218.7H920.2V220.0H919.7V220.0H919.2V220.0H918.7V220.0H918.2V220.0H917.7V224.2H917.2V224.2H916.7V224.2H916.2V224.2H915.7V224.2H915.2V212.6H914.7V212.6H914.2V214.8H913.7V214.8H913.2V214.8H912.7V214.8H912.2V214.8H911.7V213.7H911.2V213.7H910.7V213.7H910.2V213.7H909.7V222.6H909.2V222.6H908.7V222.6H908.2V222.6H907.7V222.6H907.2V217.2H906.7V217.2H906.2V217.2H905.7V217.2H905.2V217.2H904.7V215.4H904.2V215.4H903.7V215.4H903.2V214.5H902.7V216.7H902.2V216.7H901.7V216.7H901.2V216.7H900.7V216.7H900.2V215.7H899.7V215.7H899.2V215.7H898.7V213.4H898.2V213.4H897.7V218.6H897.2V218.6H896.7V218.6H896.2V218.6H895.7V218.6H895.2V218.5H894.7V218.5H894.2V218.5H893.7V212.0H893.2V213.7H892.7V217.1H892.2V217.1H891.7V217.1H891.2V217.1H890.7V217.1H890.2V217.1H889.7V217.1H889.2V216.4H888.7V214.7H888.2V211.8H887.7V211.8H887.2V214.4H886.7V214.4H886.2V214.4H885.7V214.4H885.2V214.4H884.7V214.3H884.2V212.5H883.7V215.3H883.2V215.3H882.7V215.3H882.2V215.3H881.7V215.3H881.2V214.5H880.7V215.3H880.2V215.3H879.7V215.3H879.2V216.2H878.7V216.4H878.2V216.4H877.7V216.4H877.2V216.4H876.7V218.3H876.2V218.3H875.7V218.3H875.2V218.3H874.7V218.3H874.2V216.7H873.7V212.5H873.2V215.5H872.7V215.5H872.2V215.5H871.7V215.5H871.2V215.5H870.7V214.5H870.2V214.5H869.7V214.5H869.2V214.5H868.7V214.5H868.2V214.3H867.7V217.4H867.2V217.4H866.7V217.4H866.2V217.4H865.7V217.4H865.2V216.3H864.7V216.3H864.2V216.3H863.7V216.3H863.2V216.3H862.7V216.5H862.2V216.5H861.7V216.5H861.2V216.5H860.7V220.2H860.2V220.2H859.7V220.2H859.2V220.2H858.7V220.2H858.2V215.5H857.7V217.4H857.2V217.4H856.7V217.4H856.2V217.4H855.7V217.4H855.2V214.8H854.7V214.8H854.2V212.7H853.7V212.7H853.2V212.7H852.7V212.7H852.2V218.5H851.7V218.5H851.2V218.5H850.7V218.5H850.2V218.5H849.7V214.1H849.2V214.1H848.7V214.1H848.2V213.9H847.7V221.9H847.2V221.9H846.7V221.9H846.2V221.9H845.7V221.9H845.2V215.1H844.7V215.1H844.2V215.1H843.7V212.3H843.2V215.4H842.7V215.4H842.2V215.4H841.7V215.4H841.2V217.2H840.7V217.2H840.2V217.2H839.7V217.2H839.2V217.2H838.7V218.6H838.2V218.6H837.7V222.2H837.2V222.2H836.7V227.7H836.2V227.7H835.7V227.7H835.2V227.7H834.7V227.7H834.2V213.1H833.7V213.1H833.2V213.1H832.7V218.1H832.2V218.1H831.7V218.1H831.2V218.1H830.7V218.1H830.2V211.2H829.7V216.3H829.2V216.3H828.7V216.3H828.2V216.3H827.7V216.3H827.2V212.4H826.7V212.4H826.2V212.4H825.7V212.0H825.2V212.0H824.7V213.3H824.2V213.3H823.7V215.8H823.2V215.8H822.7V215.8H822.2V215.8H821.7V217.3H821.2V217.7H820.7V217.7H820.2V217.7H819.7V217.7H819.2V217.7H818.7V217.3H818.2V217.3H817.7V217.3H817.2V212.7H816.7V212.7H816.2V213.4H815.7V213.4H815.2V219.8H814.7V219.8H814.2V219.8H813.7V219.8H813.2V219.8H812.7V211.8H812.2V213.6H811.7V213.6H811.2V213.6H810.7V213.6H810.2V213.6H809.7V212.1H809.2V212.1H808.7V215.3H808.2V219.5H807.7V219.5H807.2V219.5H806.7V219.5H806.2V219.5H805.7V216.3H805.2V217.7H804.7V217.7H804.2V217.7H803.7V217.7H803.2V217.7H802.7V214.0H802.2V214.0H801.7V214.0H801.2V212.5H800.7V216.2H800.2V216.2H799.7V216.2H799.2V216.2H798.7V216.2H798.2V214.1H797.7V216.3H797.2V216.3H796.7V216.3H796.2V216.3H795.7V216.3H795.2V213.6H794.7V213.6H794.2V214.7H793.7V216.0H793.2V219.3H792.7V219.3H792.2V219.3H791.7V219.3H791.2V219.3H790.7V211.1H790.2V211.1H789.7V211.1H789.2V214.2H788.7V218.0H788.2V218.0H787.7V218.0H787.2V218.0H786.7V218.0H786.2V215.5H785.7V215.5H785.2V215.5H784.7V220.0H784.2V220.0H783.7V220.0H783.2V220.0H782.7V220.0H782.2V210.9H781.7V211.4H781.2V211.4H780.7V216.2H780.2V216.2H779.7V216.2H779.2V218.3H778.7V218.3H778.2V218.3H777.7V218.3H777.2V218.3H776.7V217.2H776.2V217.2H775.7V217.2H775.2V217.2H774.7V213.4H774.2V213.4H773.7V213.4H773.2V213.4H772.7V215.3H772.2V215.3H771.7V215.3H771.2V215.3H770.7V215.3H770.2V209.4H769.7V212.5H769.2V212.5H768.7V214.7H768.2V214.7H767.7V214.7H767.2V214.7H766.7V219.7H766.2V219.7H765.7V219.7H765.2V219.7H764.7V219.7H764.2V214.3H763.7V214.3H763.2V214.3H762.7V213.3H762.2V211.8H761.7V215.7H761.2V215.7H760.7V215.7H760.2V215.7H759.7V222.8H759.2V222.8H758.7V222.8H758.2V222.8H757.7V222.8H757.2V217.0H756.7V218.2H756.2V218.2H755.7V218.2H755.2V218.2H754.7V218.2H754.2V215.9H753.7V215.9H753.2V215.9H752.7V215.9H752.2V215.4H751.7V216.3H751.2V217.4H750.7V217.4H750.2V217.4H749.7V217.4H749.2V217.4H748.7V211.6H748.2V215.3H747.7V215.3H747.2V215.3H746.7V215.3H746.2V215.3H745.7V212.3H745.2V212.3H744.7V211.3H744.2V211.3H743.7V211.3H743.2V211.4H742.7V211.4H742.2V211.4H741.7V211.4H741.2V211.4H740.7V208.2H740.2V208.2H739.7V210.9H739.2V216.7H738.7V216.7H738.2V216.7H737.7V216.7H737.2V216.7H736.7V218.8H736.2V218.8H735.7V218.8H735.2V218.8H734.7V218.8H734.2V213.7H733.7V213.4H733.2V213.9H732.7V223.1H732.2V223.1H731.7V223.1H731.2V223.1H730.7V223.1H730.2V216.4H729.7V216.3H729.2V216.3H728.7V216.5H728.2V216.5H727.7V216.5H727.2V216.5H726.7V216.5H726.2V210.1H725.7V218.4H725.2V218.4H724.7V218.4H724.2V218.4H723.7V218.4H723.2V217.1H722.7V213.3H722.2V213.3H721.7V211.6H721.2V213.3H720.7V213.3H720.2V213.3H719.7V213.3H719.2V216.1H718.7V216.1H718.2V218.0H717.7V218.0H717.2V218.0H716.7V218.0H716.2V218.0H715.7V214.1H715.2V215.9H714.7V215.9H714.2V215.9H713.7V218.5H713.2V218.5H712.7V218.5H712.2V218.5H711.7V218.5H711.2V212.6H710.7V212.9H710.2V212.9H709.7V212.9H709.2V212.9H708.7V216.6H708.2V216.6H707.7V216.6H707.2V216.6H706.7V216.6H706.2V218.9H705.7V218.9H705.2V218.9H704.7V218.9H704.2V218.9H703.7V217.4H703.2V217.4H702.7V217.4H702.2V217.4H701.7V217.4H701.2V211.3H700.7V214.3H700.2V214.3H699.7V214.3H699.2V214.3H698.7V214.3H698.2V212.4H697.7Z" fill="#C0504D"/>
<line x1="49.5" y1="352.3" x2="579.6" y2="352.3" stroke="#8a8a8a" stroke-width="1.15"/>
<line x1="49.5" y1="419.0" x2="579.6" y2="419.0" stroke="#8a8a8a" stroke-width="1.15"/>
<line x1="49.5" y1="485.6" x2="579.6" y2="485.6" stroke="#8a8a8a" stroke-width="1.15"/>
<line x1="49.5" y1="552.2" x2="579.6" y2="552.2" stroke="#8a8a8a" stroke-width="1.15"/>
<line x1="55.0" y1="352.3" x2="55.0" y2="557.2" stroke="#9a9a9a" stroke-width="1.6"/>
<line x1="55.0" y1="552.2" x2="579.6" y2="552.2" stroke="#858585" stroke-width="1.6"/>
<line x1="55.0" y1="552.2" x2="55.0" y2="557.2" stroke="#9a9a9a" stroke-width="1.4"/>
<text class="lab" x="55.0" y="571.1" text-anchor="middle">0</text>
<line x1="120.6" y1="552.2" x2="120.6" y2="557.2" stroke="#9a9a9a" stroke-width="1.4"/>
<text class="lab" x="120.6" y="571.1" text-anchor="middle">1,000</text>
<line x1="186.2" y1="552.2" x2="186.2" y2="557.2" stroke="#9a9a9a" stroke-width="1.4"/>
<text class="lab" x="186.2" y="571.1" text-anchor="middle">2,000</text>
<line x1="251.7" y1="552.2" x2="251.7" y2="557.2" stroke="#9a9a9a" stroke-width="1.4"/>
<text class="lab" x="251.7" y="571.1" text-anchor="middle">3,000</text>
<line x1="317.3" y1="552.2" x2="317.3" y2="557.2" stroke="#9a9a9a" stroke-width="1.4"/>
<text class="lab" x="317.3" y="571.1" text-anchor="middle">4,000</text>
<line x1="382.9" y1="552.2" x2="382.9" y2="557.2" stroke="#9a9a9a" stroke-width="1.4"/>
<text class="lab" x="382.9" y="571.1" text-anchor="middle">5,000</text>
<line x1="448.5" y1="552.2" x2="448.5" y2="557.2" stroke="#9a9a9a" stroke-width="1.4"/>
<text class="lab" x="448.5" y="571.1" text-anchor="middle">6,000</text>
<line x1="514.0" y1="552.2" x2="514.0" y2="557.2" stroke="#9a9a9a" stroke-width="1.4"/>
<text class="lab" x="514.0" y="571.1" text-anchor="middle">7,000</text>
<line x1="579.6" y1="552.2" x2="579.6" y2="557.2" stroke="#9a9a9a" stroke-width="1.4"/>
<text class="lab" x="579.6" y="571.1" text-anchor="middle">8,000</text>
<text class="lab" x="44.8" y="355.7" text-anchor="end">0.002</text>
<text class="lab" x="44.8" y="422.4" text-anchor="end">0.0015</text>
<text class="lab" x="44.8" y="489.0" text-anchor="end">0.001</text>
<text class="lab" x="44.8" y="555.6" text-anchor="end">0.0005</text>
<path d="M54.5 440.0H55.0V440.0H55.5V440.0H56.0V440.0H56.5V440.0H57.0V421.5H57.5V421.5H58.0V421.5H58.5V421.5H59.0V421.5H59.5V439.7H60.0V431.7H60.5V431.7H61.0V431.7H61.5V431.7H62.0V431.7H62.5V450.5H63.0V450.5H63.5V441.5H64.0V433.1H64.5V433.1H65.0V433.1H65.5V433.1H66.0V433.1H66.5V458.4H67.0V459.3H67.5V450.5H68.0V447.8H68.5V447.8H69.0V447.8H69.5V447.8H70.0V446.5H70.5V446.5H71.0V446.5H71.5V446.5H72.0V441.6H72.5V441.6H73.0V441.6H73.5V441.6H74.0V441.6H74.5V442.7H75.0V442.7H75.5V445.4H76.0V445.8H76.5V445.8H77.0V445.8H77.5V445.8H78.0V445.8H78.5V447.0H79.0V447.0H79.5V447.0H80.0V458.0H80.5V445.3H81.0V445.3H81.5V445.3H82.0V434.3H82.5V434.3H83.0V434.3H83.5V434.3H84.0V434.3H84.5V435.5H85.0V435.5H85.5V443.0H86.0V443.0H86.5V444.3H87.0V444.3H87.5V439.2H88.0V439.2H88.5V439.2H89.0V439.2H89.5V439.2H90.0V446.3H90.5V429.7H91.0V429.7H91.5V429.7H92.0V429.7H92.5V429.7H93.0V448.5H93.5V443.1H94.0V443.1H94.5V443.1H95.0V443.1H95.5V443.1H96.0V437.4H96.5V437.4H97.0V437.4H97.5V437.4H98.0V436.4H98.5V436.4H99.0V436.4H99.5V436.4H100.0V436.4H100.5V447.0H101.0V449.5H101.5V451.8H102.0V451.8H102.5V452.1H103.0V434.6H103.5V434.6H104.0V434.6H104.5V434.6H105.0V434.6H105.5V437.0H106.0V437.0H106.5V443.6H107.0V446.2H107.5V453.7H108.0V445.2H108.5V445.2H109.0V443.8H109.5V443.8H110.0V443.8H110.5V443.8H111.0V443.8H111.5V445.6H112.0V433.3H112.5V433.3H113.0V433.3H113.5V433.3H114.0V433.3H114.5V450.4H115.0V452.7H115.5V439.9H116.0V439.9H116.5V439.9H117.0V439.9H117.5V439.9H118.0V442.2H118.5V442.2H119.0V442.2H119.5V442.2H120.0V454.2H120.5V454.2H121.0V458.2H121.5V458.2H122.0V441.6H122.5V441.6H123.0V441.6H123.5V441.6H124.0V441.6H124.5V446.1H125.0V446.1H125.5V446.1H126.0V446.1H126.5V453.8H127.0V453.8H127.5V453.8H128.0V447.6H128.5V447.6H129.0V447.6H129.5V447.6H130.0V447.6H130.5V450.1H131.0V446.2H131.5V446.2H132.0V442.0H132.5V442.0H133.0V440.5H133.5V440.5H134.0V435.7H134.5V435.7H135.0V435.7H135.5V435.7H136.0V435.7H136.5V436.6H137.0V436.6H137.5V436.6H138.0V436.6H138.5V436.6H139.0V446.4H139.5V418.3H140.0V418.3H140.5V418.3H141.0V418.3H141.5V418.3H142.0V430.0H142.5V430.0H143.0V430.0H143.5V430.0H144.0V430.0H144.5V437.7H145.0V437.7H145.5V437.7H146.0V441.3H146.5V445.7H147.0V441.8H147.5V441.8H148.0V441.8H148.5V441.8H149.0V441.8H149.5V451.8H150.0V451.8H150.5V451.8H151.0V451.8H151.5V447.0H152.0V447.0H152.5V447.0H153.0V447.0H153.5V447.0H154.0V444.6H154.5V444.6H155.0V441.8H155.5V441.8H156.0V441.8H156.5V441.8H157.0V441.8H157.5V442.7H158.0V442.7H158.5V445.8H159.0V445.8H159.5V445.8H160.0V445.8H160.5V444.6H161.0V444.6H161.5V444.6H162.0V444.6H162.5V444.6H163.0V456.2H163.5V455.2H164.0V434.8H164.5V434.8H165.0V434.8H165.5V434.8H166.0V434.8H166.5V436.6H167.0V444.4H167.5V445.3H168.0V445.3H168.5V445.3H169.0V445.3H169.5V445.3H170.0V442.1H170.5V442.1H171.0V439.5H171.5V438.5H172.0V436.3H172.5V436.3H173.0V436.3H173.5V436.3H174.0V436.3H174.5V448.9H175.0V448.9H175.5V448.9H176.0V448.9H176.5V451.4H177.0V451.4H177.5V451.4H178.0V412.7H178.5V412.7H179.0V412.7H179.5V412.7H180.0V412.7H180.5V443.7H181.0V443.7H181.5V443.7H182.0V443.7H182.5V443.7H183.0V452.6H183.5V446.9H184.0V446.9H184.5V433.4H185.0V433.4H185.5V433.4H186.0V433.4H186.5V433.4H187.0V440.1H187.5V440.1H188.0V437.3H188.5V437.3H189.0V437.3H189.5V437.3H190.0V437.3H190.5V438.5H191.0V445.8H191.5V456.3H192.0V457.7H192.5V457.7H193.0V451.0H193.5V451.0H194.0V451.0H194.5V451.0H195.0V451.0H195.5V451.1H196.0V431.1H196.5V431.1H197.0V431.1H197.5V431.1H198.0V431.1H198.5V448.1H199.0V445.5H199.5V445.5H200.0V445.5H200.5V442.3H201.0V442.3H201.5V442.3H202.0V442.3H202.5V442.1H203.0V442.1H203.5V442.1H204.0V442.1H204.5V440.5H205.0V440.5H205.5V440.5H206.0V440.5H206.5V440.5H207.0V439.9H207.5V439.9H208.0V439.9H208.5V439.9H209.0V439.9H209.5V444.4H210.0V446.6H210.5V446.6H211.0V448.1H211.5V450.5H212.0V438.5H212.5V438.5H213.0V438.5H213.5V438.5H214.0V438.5H214.5V451.3H215.0V409.0H215.5V409.0H216.0V409.0H216.5V409.0H217.0V409.0H217.5V454.0H218.0V454.0H218.5V454.0H219.0V454.0H219.5V454.0H220.0V456.1H220.5V456.1H221.0V456.1H221.5V456.4H222.0V444.0H222.5V444.0H223.0V444.0H223.5V444.0H224.0V444.0H224.5V450.4H225.0V445.1H225.5V442.9H226.0V442.9H226.5V442.9H227.0V442.9H227.5V422.4H228.0V422.4H228.5V422.4H229.0V422.4H229.5V422.4H230.0V451.0H230.5V448.6H231.0V443.5H231.5V438.0H232.0V438.0H232.5V438.0H233.0V438.0H233.5V438.0H234.0V449.6H234.5V449.6H235.0V449.3H235.5V448.6H236.0V448.6H236.5V448.6H237.0V448.6H237.5V448.6H238.0V459.9H238.5V459.9H239.0V463.3H239.5V436.9H240.0V436.9H240.5V433.9H241.0V433.9H241.5V433.9H242.0V433.9H242.5V433.9H243.0V449.9H243.5V449.9H244.0V445.0H244.5V445.0H245.0V445.0H245.5V445.0H246.0V445.0H246.5V430.1H247.0V430.1H247.5V430.1H248.0V430.1H248.5V430.1H249.0V457.9H249.5V453.8H250.0V444.7H250.5V444.7H251.0V444.7H251.5V430.8H252.0V430.8H252.5V430.8H253.0V430.8H253.5V430.8H254.0V450.6H254.5V450.6H255.0V450.6H255.5V453.7H256.0V453.7H256.5V442.5H257.0V442.5H257.5V442.5H258.0V442.5H258.5V442.5H259.0V448.8H259.5V448.8H260.0V448.8H260.5V448.8H261.0V448.8H261.5V464.4H262.0V456.3H262.5V456.3H263.0V456.3H263.5V442.2H264.0V442.2H264.5V442.2H265.0V442.2H265.5V442.2H266.0V452.8H266.5V452.8H267.0V452.4H267.5V452.4H268.0V439.7H268.5V434.0H269.0V434.0H269.5V434.0H270.0V434.0H270.5V434.0H271.0V447.8H271.5V447.8H272.0V444.6H272.5V443.0H273.0V443.0H273.5V443.0H274.0V439.7H274.5V439.7H275.0V439.7H275.5V434.7H276.0V423.0H276.5V423.0H277.0V423.0H277.5V423.0H278.0V423.0H278.5V443.2H279.0V443.2H279.5V443.2H280.0V442.1H280.5V442.1H281.0V442.1H281.5V442.1H282.0V442.1H282.5V447.5H283.0V444.9H283.5V444.9H284.0V444.9H284.5V434.7H285.0V434.7H285.5V434.7H286.0V434.7H286.5V434.7H287.0V442.0H287.5V442.0H288.0V442.0H288.5V442.0H289.0V444.5H289.5V443.4H290.0V443.4H290.5V443.4H291.0V443.4H291.5V443.4H292.0V451.4H292.5V451.1H293.0V446.5H293.5V440.0H294.0V440.0H294.5V440.0H295.0V440.0H295.5V440.0H296.0V444.4H296.5V444.4H297.0V444.4H297.5V440.2H298.0V440.2H298.5V440.2H299.0V440.2H299.5V440.2H300.0V444.6H300.5V444.6H301.0V444.6H301.5V448.9H302.0V434.4H302.5V434.4H303.0V434.4H303.5V434.4H304.0V434.4H304.5V441.6H305.0V441.6H305.5V441.6H306.0V455.6H306.5V451.0H307.0V434.5H307.5V434.5H308.0V434.5H308.5V434.5H309.0V416.8H309.5V416.8H310.0V416.8H310.5V416.8H311.0V416.8H311.5V457.2H312.0V447.8H312.5V433.6H313.0V433.6H313.5V433.6H314.0V433.6H314.5V433.6H315.0V437.4H315.5V437.4H316.0V437.4H316.5V437.4H317.0V449.0H317.5V449.0H318.0V439.8H318.5V439.8H319.0V439.8H319.5V439.8H320.0V437.7H320.5V437.7H321.0V437.7H321.5V437.7H322.0V433.1H322.5V433.1H323.0V433.1H323.5V433.1H324.0V433.1H324.5V436.1H325.0V436.1H325.5V454.2H326.0V454.2H326.5V454.2H327.0V445.3H327.5V444.7H328.0V444.7H328.5V444.7H329.0V444.7H329.5V442.3H330.0V442.3H330.5V442.3H331.0V442.3H331.5V442.3H332.0V452.8H332.5V435.9H333.0V435.9H333.5V435.9H334.0V435.9H334.5V435.9H335.0V438.1H335.5V438.1H336.0V438.1H336.5V440.4H337.0V443.4H337.5V443.4H338.0V455.2H338.5V457.8H339.0V457.8H339.5V460.8H340.0V446.4H340.5V446.4H341.0V443.1H341.5V443.1H342.0V435.2H342.5V435.2H343.0V435.2H343.5V435.2H344.0V435.2H344.5V443.3H345.0V444.4H345.5V444.4H346.0V443.6H346.5V443.6H347.0V443.6H347.5V443.6H348.0V443.6H348.5V454.0H349.0V451.2H349.5V451.2H350.0V451.2H350.5V448.1H351.0V431.5H351.5V431.5H352.0V431.5H352.5V431.5H353.0V431.5H353.5V443.5H354.0V443.5H354.5V443.5H355.0V439.8H355.5V439.8H356.0V437.7H356.5V437.7H357.0V437.7H357.5V437.7H358.0V437.7H358.5V448.2H359.0V449.4H359.5V449.4H360.0V449.4H360.5V451.9H361.0V451.9H361.5V451.9H362.0V443.3H362.5V443.3H363.0V443.3H363.5V443.3H364.0V443.3H364.5V449.6H365.0V450.5H365.5V450.5H366.0V450.5H366.5V450.5H367.0V450.2H367.5V447.3H368.0V446.2H368.5V443.8H369.0V438.4H369.5V438.4H370.0V438.4H370.5V438.4H371.0V438.4H371.5V423.7H372.0V423.7H372.5V423.7H373.0V423.7H373.5V423.7H374.0V452.0H374.5V440.0H375.0V440.0H375.5V440.0H376.0V440.0H376.5V440.0H377.0V453.9H377.5V450.3H378.0V441.0H378.5V441.0H379.0V441.0H379.5V441.0H380.0V441.0H380.5V440.3H381.0V440.3H381.5V440.3H382.0V440.3H382.5V440.3H383.0V443.9H383.5V442.2H384.0V442.2H384.5V442.2H385.0V442.2H385.5V442.2H386.0V443.4H386.5V443.4H387.0V443.4H387.5V443.4H388.0V443.4H388.5V445.2H389.0V445.2H389.5V445.2H390.0V441.9H390.5V441.9H391.0V441.9H391.5V441.9H392.0V441.9H392.5V444.1H393.0V444.1H393.5V444.1H394.0V444.1H394.5V447.0H395.0V447.0H395.5V438.3H396.0V438.3H396.5V438.3H397.0V438.3H397.5V438.3H398.0V442.2H398.5V444.3H399.0V444.0H399.5V444.0H400.0V444.0H400.5V438.0H401.0V438.0H401.5V438.0H402.0V438.0H402.5V438.0H403.0V440.7H403.5V412.7H404.0V412.7H404.5V412.7H405.0V412.7H405.5V412.7H406.0V441.9H406.5V441.9H407.0V441.9H407.5V441.9H408.0V445.6H408.5V446.4H409.0V446.4H409.5V446.4H410.0V434.5H410.5V434.5H411.0V434.5H411.5V434.5H412.0V434.5H412.5V437.9H413.0V437.9H413.5V437.9H414.0V437.9H414.5V437.9H415.0V445.7H415.5V445.7H416.0V451.6H416.5V452.1H417.0V450.4H417.5V439.2H418.0V439.2H418.5V436.5H419.0V436.5H419.5V436.5H420.0V436.5H420.5V436.5H421.0V446.9H421.5V446.9H422.0V446.9H422.5V440.0H423.0V440.0H423.5V440.0H424.0V440.0H424.5V440.0H425.0V452.4H425.5V452.4H426.0V452.4H426.5V452.4H427.0V453.7H427.5V453.7H428.0V438.9H428.5V438.9H429.0V438.9H429.5V438.9H430.0V438.9H430.5V450.5H431.0V447.0H431.5V446.9H432.0V438.9H432.5V438.9H433.0V438.9H433.5V438.9H434.0V438.2H434.5V432.9H435.0V432.9H435.5V432.9H436.0V432.9H436.5V432.9H437.0V454.8H437.5V454.8H438.0V454.8H438.5V454.8H439.0V442.5H439.5V442.5H440.0V442.5H440.5V442.5H441.0V442.5H441.5V443.4H442.0V446.1H442.5V446.1H443.0V446.1H443.5V446.1H444.0V439.8H444.5V439.8H445.0V439.8H445.5V439.8H446.0V439.8H446.5V443.6H447.0V443.6H447.5V434.7H448.0V434.7H448.5V434.7H449.0V434.7H449.5V434.7H450.0V435.1H450.5V435.1H451.0V435.1H451.5V435.1H452.0V436.7H452.5V435.1H453.0V435.1H453.5V435.1H454.0V435.1H454.5V432.4H455.0V432.4H455.5V432.4H456.0V432.4H456.5V432.4H457.0V445.1H457.5V445.9H458.0V445.9H458.5V442.0H459.0V442.0H459.5V442.0H460.0V441.4H460.5V441.4H461.0V441.4H461.5V441.4H462.0V441.4H462.5V446.8H463.0V444.8H463.5V440.7H464.0V438.9H464.5V438.9H465.0V438.9H465.5V438.9H466.0V438.9H466.5V442.4H467.0V442.4H467.5V444.5H468.0V444.5H468.5V443.8H469.0V443.8H469.5V431.6H470.0V431.6H470.5V431.6H471.0V431.6H471.5V431.6H472.0V444.2H472.5V444.2H473.0V444.2H473.5V444.2H474.0V454.5H474.5V442.0H475.0V442.0H475.5V442.0H476.0V442.0H476.5V442.0H477.0V448.3H477.5V443.9H478.0V443.9H478.5V443.9H479.0V443.9H479.5V443.9H480.0V446.5H480.5V446.5H481.0V437.1H481.5V437.1H482.0V437.1H482.5V437.1H483.0V437.1H483.5V445.0H484.0V445.0H484.5V445.0H485.0V445.0H485.5V447.5H486.0V433.2H486.5V433.2H487.0V433.2H487.5V414.6H488.0V414.6H488.5V414.6H489.0V414.6H489.5V414.6H490.0V448.3H490.5V448.3H491.0V448.3H491.5V446.9H492.0V446.9H492.5V446.9H493.0V446.9H493.5V446.9H494.0V439.4H494.5V439.4H495.0V439.4H495.5V439.4H496.0V439.4H496.5V440.1H497.0V440.1H497.5V440.1H498.0V440.1H498.5V442.3H499.0V442.3H499.5V442.3H500.0V442.3H500.5V442.3H501.0V451.9H501.5V448.9H502.0V448.9H502.5V448.9H503.0V448.9H503.5V448.9H504.0V451.5H504.5V451.5H505.0V451.5H505.5V438.5H506.0V438.5H506.5V438.5H507.0V438.5H507.5V438.5H508.0V448.6H508.5V448.6H509.0V450.7H509.5V444.9H510.0V444.9H510.5V444.9H511.0V444.9H511.5V444.9H512.0V459.6H512.5V459.9H513.0V448.7H513.5V448.7H514.0V446.8H514.5V446.8H515.0V446.8H515.5V446.8H516.0V446.8H516.5V446.9H517.0V446.9H517.5V446.9H518.0V446.9H518.5V446.9H519.0V449.0H519.5V446.7H520.0V446.7H520.5V446.7H521.0V446.7H521.5V446.7H522.0V432.3H522.5V432.3H523.0V432.3H523.5V432.3H524.0V432.3H524.5V445.1H525.0V445.1H525.5V445.1H526.0V456.2H526.5V456.1H527.0V456.1H527.5V440.7H528.0V423.0H528.5V423.0H529.0V423.0H529.5V423.0H530.0V423.0H530.5V449.1H531.0V449.1H531.5V443.7H532.0V443.7H532.5V443.7H533.0V443.7H533.5V443.7H534.0V437.8H534.5V437.8H535.0V437.8H535.5V437.8H536.0V437.8H536.5V451.9H537.0V446.6H537.5V446.6H538.0V446.6H538.5V446.6H539.0V446.6H539.5V455.4H540.0V453.5H540.5V453.5H541.0V453.5H541.5V452.8H542.0V452.8H542.5V445.5H543.0V445.5H543.5V445.5H544.0V445.5H544.5V445.5H545.0V450.1H545.5V452.8H546.0V444.0H546.5V444.0H547.0V444.0H547.5V444.0H548.0V444.0H548.5V421.5H549.0V421.5H549.5V421.5H550.0V421.5H550.5V421.5H551.0V435.7H551.5V435.7H552.0V435.7H552.5V435.7H553.0V446.4H553.5V446.4H554.0V446.4H554.5V446.4H555.0V448.2H555.5V448.2H556.0V446.9H556.5V446.9H557.0V446.9H557.5V446.9H558.0V446.3H558.5V446.3H559.0V446.3H559.5V446.3H560.0V446.3H560.5V451.8H561.0V451.8H561.5V451.8H562.0V454.7H562.5V445.6H563.0V445.6H563.5V445.6H564.0V443.1H564.5V443.1H565.0V443.1H565.5V443.1H566.0V443.1H566.5V449.7H567.0V446.2H567.5V446.2H568.0V427.7H568.5V427.7H569.0V427.7H569.5V427.7H570.0V427.7H570.5V446.7H571.0V446.7H571.5V446.7H572.0V441.3H572.5V441.3H573.0V441.3H573.5V438.0H574.0V438.0H574.5V438.0H575.0V438.0H575.5V438.0H576.0V446.1H576.5V428.7H577.0V428.7H577.5V428.7H578.0V428.7H578.5V428.7H579.0V457.6H579.5V461.1H580.0V461.1H580.5V508.8H580.0V508.8H579.5V528.1H579.0V528.1H578.5V528.9H578.0V528.9H577.5V528.9H577.0V528.9H576.5V528.9H576.0V522.8H575.5V522.8H575.0V533.6H574.5V533.6H574.0V533.6H573.5V533.6H573.0V533.6H572.5V511.6H572.0V519.7H571.5V519.7H571.0V519.7H570.5V521.4H570.0V521.4H569.5V521.4H569.0V521.4H568.5V521.4H568.0V514.1H567.5V514.1H567.0V514.1H566.5V514.1H566.0V510.6H565.5V510.6H565.0V510.6H564.5V521.7H564.0V522.6H563.5V522.6H563.0V522.6H562.5V522.6H562.0V522.6H561.5V519.7H561.0V519.7H560.5V519.7H560.0V519.7H559.5V519.7H559.0V515.0H558.5V515.0H558.0V517.7H557.5V517.7H557.0V517.7H556.5V517.7H556.0V517.7H555.5V510.3H555.0V523.2H554.5V523.2H554.0V523.2H553.5V523.2H553.0V523.2H552.5V520.2H552.0V515.8H551.5V519.4H551.0V519.4H550.5V519.4H550.0V519.4H549.5V523.5H549.0V523.5H548.5V523.5H548.0V523.5H547.5V523.5H547.0V526.6H546.5V526.6H546.0V526.6H545.5V526.6H545.0V526.6H544.5V507.9H544.0V505.4H543.5V505.4H543.0V505.4H542.5V516.1H542.0V516.1H541.5V516.1H541.0V516.1H540.5V516.1H540.0V523.2H539.5V523.2H539.0V523.2H538.5V523.2H538.0V523.2H537.5V514.7H537.0V514.7H536.5V514.7H536.0V514.7H535.5V509.2H535.0V507.0H534.5V507.0H534.0V507.0H533.5V512.8H533.0V512.8H532.5V512.8H532.0V512.8H531.5V512.8H531.0V512.1H530.5V509.0H530.0V509.0H529.5V509.0H529.0V529.8H528.5V529.8H528.0V529.8H527.5V529.8H527.0V529.8H526.5V512.7H526.0V516.1H525.5V516.1H525.0V516.1H524.5V516.1H524.0V522.3H523.5V522.3H523.0V522.3H522.5V522.3H522.0V522.3H521.5V514.2H521.0V522.6H520.5V522.6H520.0V522.6H519.5V522.6H519.0V522.6H518.5V516.7H518.0V516.7H517.5V518.2H517.0V518.2H516.5V518.2H516.0V518.2H515.5V518.2H515.0V514.8H514.5V515.9H514.0V515.9H513.5V515.9H513.0V515.9H512.5V516.6H512.0V516.6H511.5V516.6H511.0V516.6H510.5V516.6H510.0V509.5H509.5V506.2H509.0V508.2H508.5V508.2H508.0V513.7H507.5V534.9H507.0V534.9H506.5V534.9H506.0V534.9H505.5V534.9H505.0V512.5H504.5V512.5H504.0V535.8H503.5V535.8H503.0V535.8H502.5V535.8H502.0V535.8H501.5V509.8H501.0V509.8H500.5V509.8H500.0V502.6H499.5V501.2H499.0V501.2H498.5V501.2H498.0V508.3H497.5V508.3H497.0V508.3H496.5V508.3H496.0V519.8H495.5V519.8H495.0V519.8H494.5V519.8H494.0V519.8H493.5V517.1H493.0V517.1H492.5V528.0H492.0V528.0H491.5V528.0H491.0V528.0H490.5V528.0H490.0V513.7H489.5V513.7H489.0V518.2H488.5V518.2H488.0V518.2H487.5V518.2H487.0V523.2H486.5V523.2H486.0V523.2H485.5V527.8H485.0V529.2H484.5V529.2H484.0V529.2H483.5V529.2H483.0V529.2H482.5V516.1H482.0V516.1H481.5V516.1H481.0V518.0H480.5V518.0H480.0V518.0H479.5V518.0H479.0V526.1H478.5V526.1H478.0V526.1H477.5V526.1H477.0V526.1H476.5V519.9H476.0V519.9H475.5V519.9H475.0V519.9H474.5V519.9H474.0V507.3H473.5V515.2H473.0V521.2H472.5V521.2H472.0V521.2H471.5V521.2H471.0V521.2H470.5V518.3H470.0V518.3H469.5V518.3H469.0V518.3H468.5V518.3H468.0V517.8H467.5V517.8H467.0V517.8H466.5V517.8H466.0V517.8H465.5V506.1H465.0V506.1H464.5V505.1H464.0V526.5H463.5V526.5H463.0V543.0H462.5V543.0H462.0V543.0H461.5V543.0H461.0V543.0H460.5V522.7H460.0V522.7H459.5V522.7H459.0V519.3H458.5V514.7H458.0V514.7H457.5V514.7H457.0V524.3H456.5V524.3H456.0V524.3H455.5V524.3H455.0V524.3H454.5V515.4H454.0V515.4H453.5V512.8H453.0V512.2H452.5V512.2H452.0V512.4H451.5V512.4H451.0V512.4H450.5V525.7H450.0V525.7H449.5V525.7H449.0V525.7H448.5V525.7H448.0V502.6H447.5V510.9H447.0V513.4H446.5V513.4H446.0V513.4H445.5V513.4H445.0V513.4H444.5V516.3H444.0V516.3H443.5V519.3H443.0V519.3H442.5V519.3H442.0V519.3H441.5V519.3H441.0V513.8H440.5V513.8H440.0V513.8H439.5V512.8H439.0V512.8H438.5V512.8H438.0V512.8H437.5V523.4H437.0V527.6H436.5V527.6H436.0V527.6H435.5V527.6H435.0V527.6H434.5V517.4H434.0V517.4H433.5V517.1H433.0V517.1H432.5V517.1H432.0V517.1H431.5V515.6H431.0V512.9H430.5V512.9H430.0V512.9H429.5V512.9H429.0V512.9H428.5V509.0H428.0V509.0H427.5V509.7H427.0V509.7H426.5V509.7H426.0V509.7H425.5V510.0H425.0V510.0H424.5V515.6H424.0V515.6H423.5V515.6H423.0V515.6H422.5V515.6H422.0V525.4H421.5V525.4H421.0V525.4H420.5V525.4H420.0V525.4H419.5V515.7H419.0V515.7H418.5V515.7H418.0V515.7H417.5V515.7H417.0V507.2H416.5V507.2H416.0V515.6H415.5V515.6H415.0V515.6H414.5V515.6H414.0V518.0H413.5V518.0H413.0V518.0H412.5V518.0H412.0V518.0H411.5V516.3H411.0V516.3H410.5V516.3H410.0V516.3H409.5V516.3H409.0V524.6H408.5V524.6H408.0V524.6H407.5V524.6H407.0V524.6H406.5V516.0H406.0V511.1H405.5V511.1H405.0V511.1H404.5V511.1H404.0V511.1H403.5V506.3H403.0V506.3H402.5V506.3H402.0V508.6H401.5V508.6H401.0V508.6H400.5V508.6H400.0V508.6H399.5V504.3H399.0V527.4H398.5V527.4H398.0V527.4H397.5V527.4H397.0V527.4H396.5V518.0H396.0V525.6H395.5V525.6H395.0V525.6H394.5V525.6H394.0V525.6H393.5V510.7H393.0V510.7H392.5V510.7H392.0V506.4H391.5V506.4H391.0V504.9H390.5V504.9H390.0V507.4H389.5V507.4H389.0V507.4H388.5V507.4H388.0V516.5H387.5V516.5H387.0V516.5H386.5V516.5H386.0V523.3H385.5V523.3H385.0V539.0H384.5V539.0H384.0V539.0H383.5V539.0H383.0V539.0H382.5V523.1H382.0V523.5H381.5V523.5H381.0V523.5H380.5V523.5H380.0V523.5H379.5V521.6H379.0V516.6H378.5V516.6H378.0V516.6H377.5V515.1H377.0V515.1H376.5V515.1H376.0V512.4H375.5V512.4H375.0V511.7H374.5V511.4H374.0V511.4H373.5V511.4H373.0V525.7H372.5V525.7H372.0V525.7H371.5V525.7H371.0V525.7H370.5V506.1H370.0V506.1H369.5V506.1H369.0V513.7H368.5V513.7H368.0V513.7H367.5V513.7H367.0V514.9H366.5V514.9H366.0V514.9H365.5V514.9H365.0V514.9H364.5V523.8H364.0V523.8H363.5V523.8H363.0V523.8H362.5V523.8H362.0V516.1H361.5V518.0H361.0V518.0H360.5V518.0H360.0V518.0H359.5V518.0H359.0V529.7H358.5V529.7H358.0V529.7H357.5V529.7H357.0V529.7H356.5V521.7H356.0V521.7H355.5V521.7H355.0V521.7H354.5V521.7H354.0V533.6H353.5V533.6H353.0V533.6H352.5V533.6H352.0V533.6H351.5V520.1H351.0V520.1H350.5V524.8H350.0V524.8H349.5V524.8H349.0V524.8H348.5V524.8H348.0V529.7H347.5V529.7H347.0V529.7H346.5V529.7H346.0V529.7H345.5V517.5H345.0V517.5H344.5V517.5H344.0V512.6H343.5V517.8H343.0V517.8H342.5V517.8H342.0V517.8H341.5V525.4H341.0V525.4H340.5V525.4H340.0V525.4H339.5V525.4H339.0V525.2H338.5V525.2H338.0V525.2H337.5V525.2H337.0V525.2H336.5V512.2H336.0V512.2H335.5V514.6H335.0V514.6H334.5V514.6H334.0V514.6H333.5V514.6H333.0V512.4H332.5V522.3H332.0V522.3H331.5V522.3H331.0V522.3H330.5V522.3H330.0V507.2H329.5V507.2H329.0V520.2H328.5V520.2H328.0V520.2H327.5V520.2H327.0V520.2H326.5V519.2H326.0V519.2H325.5V519.2H325.0V524.1H324.5V524.1H324.0V524.1H323.5V524.1H323.0V524.1H322.5V518.5H322.0V518.5H321.5V518.5H321.0V518.5H320.5V518.5H320.0V515.8H319.5V515.8H319.0V515.8H318.5V515.8H318.0V509.3H317.5V509.3H317.0V514.3H316.5V514.3H316.0V514.3H315.5V514.3H315.0V514.3H314.5V505.0H314.0V506.4H313.5V506.4H313.0V506.4H312.5V506.4H312.0V509.9H311.5V509.9H311.0V509.9H310.5V509.9H310.0V509.9H309.5V520.9H309.0V520.9H308.5V520.9H308.0V520.9H307.5V520.9H307.0V512.7H306.5V510.8H306.0V510.8H305.5V515.0H305.0V515.0H304.5V515.0H304.0V515.0H303.5V515.0H303.0V510.4H302.5V525.8H302.0V525.8H301.5V525.8H301.0V525.8H300.5V525.8H300.0V513.9H299.5V513.9H299.0V517.2H298.5V517.2H298.0V517.2H297.5V517.2H297.0V517.2H296.5V514.8H296.0V514.8H295.5V514.1H295.0V514.1H294.5V514.1H294.0V514.1H293.5V513.1H293.0V513.1H292.5V513.1H292.0V513.1H291.5V513.1H291.0V508.6H290.5V508.6H290.0V508.6H289.5V518.7H289.0V518.7H288.5V518.7H288.0V518.7H287.5V525.5H287.0V525.5H286.5V525.5H286.0V525.5H285.5V525.5H285.0V514.9H284.5V516.8H284.0V516.8H283.5V516.8H283.0V522.2H282.5V522.2H282.0V522.2H281.5V522.2H281.0V522.2H280.5V511.9H280.0V511.9H279.5V511.9H279.0V511.9H278.5V511.9H278.0V509.6H277.5V518.2H277.0V518.2H276.5V518.2H276.0V518.2H275.5V518.2H275.0V521.7H274.5V521.7H274.0V521.7H273.5V521.7H273.0V521.7H272.5V513.0H272.0V513.0H271.5V513.0H271.0V524.0H270.5V524.0H270.0V524.0H269.5V524.1H269.0V524.1H268.5V524.1H268.0V524.1H267.5V524.1H267.0V508.4H266.5V508.4H266.0V508.4H265.5V508.4H265.0V508.4H264.5V500.5H264.0V501.8H263.5V503.6H263.0V504.5H262.5V504.5H262.0V512.9H261.5V512.9H261.0V512.9H260.5V512.9H260.0V512.9H259.5V509.8H259.0V509.8H258.5V512.2H258.0V512.2H257.5V512.2H257.0V521.0H256.5V521.0H256.0V521.0H255.5V521.0H255.0V521.0H254.5V514.1H254.0V514.1H253.5V514.1H253.0V514.1H252.5V514.0H252.0V509.6H251.5V509.6H251.0V509.6H250.5V514.4H250.0V514.5H249.5V516.7H249.0V516.7H248.5V516.7H248.0V516.7H247.5V516.7H247.0V501.5H246.5V520.7H246.0V520.7H245.5V520.7H245.0V520.7H244.5V520.7H244.0V520.0H243.5V520.0H243.0V519.4H242.5V519.4H242.0V519.4H241.5V519.4H241.0V515.9H240.5V515.9H240.0V513.6H239.5V515.4H239.0V515.4H238.5V515.4H238.0V516.8H237.5V516.8H237.0V516.8H236.5V516.8H236.0V516.8H235.5V510.8H235.0V510.8H234.5V525.4H234.0V525.4H233.5V525.4H233.0V525.4H232.5V545.2H232.0V545.2H231.5V545.2H231.0V545.2H230.5V545.2H230.0V522.9H229.5V522.9H229.0V522.9H228.5V522.9H228.0V522.9H227.5V502.5H227.0V512.8H226.5V512.8H226.0V515.1H225.5V515.1H225.0V515.1H224.5V515.1H224.0V515.1H223.5V520.6H223.0V520.6H222.5V520.6H222.0V520.6H221.5V520.6H221.0V515.6H220.5V515.6H220.0V509.8H219.5V509.8H219.0V512.4H218.5V512.4H218.0V512.4H217.5V518.4H217.0V518.4H216.5V518.4H216.0V518.4H215.5V523.4H215.0V523.4H214.5V523.4H214.0V523.4H213.5V523.4H213.0V509.3H212.5V509.3H212.0V509.3H211.5V515.2H211.0V515.2H210.5V515.2H210.0V515.2H209.5V515.2H209.0V510.7H208.5V504.4H208.0V504.4H207.5V501.3H207.0V501.5H206.5V501.5H206.0V520.0H205.5V520.0H205.0V520.0H204.5V520.0H204.0V520.0H203.5V508.7H203.0V508.7H202.5V514.1H202.0V514.1H201.5V514.1H201.0V514.1H200.5V546.2H200.0V546.2H199.5V546.2H199.0V546.2H198.5V546.2H198.0V509.0H197.5V509.0H197.0V509.0H196.5V497.5H196.0V497.5H195.5V505.2H195.0V505.2H194.5V505.2H194.0V505.2H193.5V505.2H193.0V512.5H192.5V512.5H192.0V512.5H191.5V512.5H191.0V516.7H190.5V516.7H190.0V516.7H189.5V516.7H189.0V516.7H188.5V515.2H188.0V517.2H187.5V517.2H187.0V517.2H186.5V517.2H186.0V524.8H185.5V524.8H185.0V524.8H184.5V529.6H184.0V529.6H183.5V529.6H183.0V529.6H182.5V529.6H182.0V509.8H181.5V509.8H181.0V509.8H180.5V509.8H180.0V503.4H179.5V506.6H179.0V506.6H178.5V506.6H178.0V512.2H177.5V518.9H177.0V518.9H176.5V519.9H176.0V519.9H175.5V519.9H175.0V519.9H174.5V519.9H174.0V504.8H173.5V504.8H173.0V504.8H172.5V515.0H172.0V518.7H171.5V518.7H171.0V518.7H170.5V518.7H170.0V518.7H169.5V516.0H169.0V505.1H168.5V504.8H168.0V495.6H167.5V523.0H167.0V523.0H166.5V523.0H166.0V523.0H165.5V523.0H165.0V520.9H164.5V520.9H164.0V522.4H163.5V522.4H163.0V522.4H162.5V527.7H162.0V527.7H161.5V527.7H161.0V527.7H160.5V527.7H160.0V522.8H159.5V522.8H159.0V522.8H158.5V510.0H158.0V521.5H157.5V521.5H157.0V521.5H156.5V521.5H156.0V521.5H155.5V520.8H155.0V519.7H154.5V524.1H154.0V524.1H153.5V524.1H153.0V524.1H152.5V524.1H152.0V511.7H151.5V511.7H151.0V520.5H150.5V520.5H150.0V520.5H149.5V520.5H149.0V520.5H148.5V511.5H148.0V527.0H147.5V527.0H147.0V527.0H146.5V527.0H146.0V527.0H145.5V521.9H145.0V517.0H144.5V507.6H144.0V507.6H143.5V507.6H143.0V506.6H142.5V506.6H142.0V515.9H141.5V515.9H141.0V515.9H140.5V515.9H140.0V515.9H139.5V518.9H139.0V518.9H138.5V518.9H138.0V518.9H137.5V524.9H137.0V524.9H136.5V524.9H136.0V524.9H135.5V524.9H135.0V515.0H134.5V522.9H134.0V522.9H133.5V522.9H133.0V522.9H132.5V522.9H132.0V515.6H131.5V515.6H131.0V521.3H130.5V521.3H130.0V521.3H129.5V521.3H129.0V521.3H128.5V519.2H128.0V519.2H127.5V519.2H127.0V509.6H126.5V508.1H126.0V517.7H125.5V517.7H125.0V517.7H124.5V517.7H124.0V517.7H123.5V516.4H123.0V519.9H122.5V519.9H122.0V519.9H121.5V519.9H121.0V519.9H120.5V517.9H120.0V517.9H119.5V517.9H119.0V522.9H118.5V522.9H118.0V522.9H117.5V522.9H117.0V522.9H116.5V517.5H116.0V517.5H115.5V517.5H115.0V517.5H114.5V510.3H114.0V508.1H113.5V508.1H113.0V508.1H112.5V507.9H112.0V509.6H111.5V509.6H111.0V511.7H110.5V511.7H110.0V512.6H109.5V526.3H109.0V526.3H108.5V526.3H108.0V526.3H107.5V526.3H107.0V524.2H106.5V524.2H106.0V524.2H105.5V524.2H105.0V524.2H104.5V510.6H104.0V527.2H103.5V527.2H103.0V527.2H102.5V527.2H102.0V527.2H101.5V524.5H101.0V524.5H100.5V524.5H100.0V524.5H99.5V524.5H99.0V518.8H98.5V518.8H98.0V516.9H97.5V516.9H97.0V523.1H96.5V523.1H96.0V523.1H95.5V523.1H95.0V523.1H94.5V505.6H94.0V524.1H93.5V524.1H93.0V524.1H92.5V524.1H92.0V524.1H91.5V522.0H91.0V522.0H90.5V522.0H90.0V522.0H89.5V513.5H89.0V515.6H88.5V515.6H88.0V515.6H87.5V515.6H87.0V515.6H86.5V512.0H86.0V512.0H85.5V514.3H85.0V514.3H84.5V514.3H84.0V514.3H83.5V514.3H83.0V513.9H82.5V513.9H82.0V513.9H81.5V511.0H81.0V511.0H80.5V515.7H80.0V515.7H79.5V515.7H79.0V515.7H78.5V515.7H78.0V519.5H77.5V519.5H77.0V519.5H76.5V519.5H76.0V519.5H75.5V517.3H75.0V520.4H74.5V541.5H74.0V541.5H73.5V541.5H73.0V541.5H72.5V541.5H72.0V524.9H71.5V524.9H71.0V524.9H70.5V524.9H70.0V504.5H69.5V518.3H69.0V518.3H68.5V518.3H68.0V536.5H67.5V536.5H67.0V536.5H66.5V536.5H66.0V536.5H65.5V508.5H65.0V512.9H64.5V512.9H64.0V512.9H63.5V512.9H63.0V512.9H62.5V508.8H62.0V508.8H61.5V504.5H61.0V519.8H60.5V519.8H60.0V519.8H59.5V519.8H59.0V519.8H58.5V515.4H58.0V512.1H57.5V513.6H57.0V513.6H56.5V521.4H56.0V521.4H55.5V521.4H55.0V521.4H54.5Z" fill="#4F81BD"/>
<line x1="701.0" y1="351.5" x2="1245.3" y2="351.5" stroke="#8a8a8a" stroke-width="1.15"/>
<line x1="701.0" y1="418.2" x2="1245.3" y2="418.2" stroke="#8a8a8a" stroke-width="1.15"/>
<line x1="701.0" y1="485.0" x2="1245.3" y2="485.0" stroke="#8a8a8a" stroke-width="1.15"/>
<line x1="701.0" y1="551.8" x2="1245.3" y2="551.8" stroke="#8a8a8a" stroke-width="1.15"/>
<line x1="706.5" y1="351.5" x2="706.5" y2="556.8" stroke="#9a9a9a" stroke-width="1.6"/>
<line x1="706.5" y1="551.8" x2="1245.3" y2="551.8" stroke="#858585" stroke-width="1.6"/>
<line x1="706.5" y1="551.8" x2="706.5" y2="556.8" stroke="#9a9a9a" stroke-width="1.4"/>
<text class="lab" x="706.5" y="569.8" text-anchor="middle">0</text>
<line x1="773.9" y1="551.8" x2="773.9" y2="556.8" stroke="#9a9a9a" stroke-width="1.4"/>
<text class="lab" x="773.9" y="569.8" text-anchor="middle">1,000</text>
<line x1="841.2" y1="551.8" x2="841.2" y2="556.8" stroke="#9a9a9a" stroke-width="1.4"/>
<text class="lab" x="841.2" y="569.8" text-anchor="middle">2,000</text>
<line x1="908.5" y1="551.8" x2="908.5" y2="556.8" stroke="#9a9a9a" stroke-width="1.4"/>
<text class="lab" x="908.5" y="569.8" text-anchor="middle">3,000</text>
<line x1="975.9" y1="551.8" x2="975.9" y2="556.8" stroke="#9a9a9a" stroke-width="1.4"/>
<text class="lab" x="975.9" y="569.8" text-anchor="middle">4,000</text>
<line x1="1043.2" y1="551.8" x2="1043.2" y2="556.8" stroke="#9a9a9a" stroke-width="1.4"/>
<text class="lab" x="1043.2" y="569.8" text-anchor="middle">5,000</text>
<line x1="1110.6" y1="551.8" x2="1110.6" y2="556.8" stroke="#9a9a9a" stroke-width="1.4"/>
<text class="lab" x="1110.6" y="569.8" text-anchor="middle">6,000</text>
<line x1="1177.9" y1="551.8" x2="1177.9" y2="556.8" stroke="#9a9a9a" stroke-width="1.4"/>
<text class="lab" x="1177.9" y="569.8" text-anchor="middle">7,000</text>
<line x1="1245.3" y1="551.8" x2="1245.3" y2="556.8" stroke="#9a9a9a" stroke-width="1.4"/>
<text class="lab" x="1245.3" y="569.8" text-anchor="middle">8,000</text>
<text class="lab" x="696.0" y="354.9" text-anchor="end">0.1</text>
<text class="lab" x="696.0" y="421.6" text-anchor="end">0</text>
<text class="lab" x="696.0" y="488.4" text-anchor="end">-0.1</text>
<text class="lab" x="696.0" y="555.1" text-anchor="end">-0.2</text>
<path d="M706.0 415.9H706.5V415.9H707.0V415.9H707.5V415.9H708.0V415.9H708.5V410.3H709.0V405.5H709.5V405.5H710.0V405.5H710.5V405.5H711.0V405.5H711.5V417.4H712.0V414.1H712.5V413.8H713.0V413.8H713.5V413.8H714.0V413.8H714.5V408.2H715.0V408.2H715.5V408.2H716.0V408.2H716.5V408.2H717.0V398.3H717.5V398.3H718.0V398.3H718.5V398.3H719.0V398.3H719.5V420.5H720.0V420.5H720.5V420.5H721.0V424.6H721.5V418.7H722.0V418.7H722.5V418.7H723.0V418.7H723.5V418.7H724.0V420.3H724.5V421.8H725.0V405.9H725.5V405.9H726.0V405.9H726.5V405.9H727.0V405.9H727.5V407.6H728.0V407.6H728.5V407.6H729.0V407.6H729.5V407.6H730.0V411.5H730.5V411.5H731.0V411.5H731.5V411.5H732.0V418.1H732.5V418.1H733.0V421.8H733.5V411.2H734.0V411.2H734.5V407.1H735.0V407.1H735.5V407.1H736.0V407.1H736.5V407.1H737.0V421.7H737.5V421.7H738.0V401.7H738.5V401.7H739.0V401.7H739.5V400.0H740.0V400.0H740.5V400.0H741.0V400.0H741.5V400.0H742.0V414.9H742.5V414.9H743.0V414.9H743.5V405.4H744.0V405.4H744.5V405.4H745.0V405.4H745.5V405.4H746.0V413.5H746.5V413.5H747.0V413.5H747.5V413.5H748.0V413.5H748.5V410.5H749.0V410.5H749.5V410.5H750.0V410.5H750.5V410.1H751.0V410.1H751.5V410.1H752.0V410.1H752.5V406.9H753.0V406.9H753.5V406.9H754.0V406.9H754.5V406.9H755.0V411.3H755.5V415.1H756.0V420.3H756.5V419.0H757.0V407.4H757.5V407.4H758.0V407.4H758.5V407.4H759.0V407.4H759.5V412.2H760.0V412.2H760.5V412.2H761.0V423.2H761.5V422.5H762.0V422.4H762.5V422.4H763.0V422.4H763.5V422.4H764.0V419.3H764.5V410.4H765.0V410.4H765.5V410.4H766.0V410.4H766.5V410.4H767.0V412.5H767.5V412.5H768.0V416.0H768.5V418.8H769.0V409.0H769.5V409.0H770.0V409.0H770.5V409.0H771.0V409.0H771.5V403.1H772.0V403.1H772.5V403.1H773.0V403.1H773.5V403.1H774.0V411.6H774.5V411.6H775.0V411.6H775.5V411.6H776.0V411.6H776.5V413.5H777.0V413.5H777.5V413.5H778.0V416.9H778.5V416.9H779.0V416.9H779.5V411.2H780.0V411.2H780.5V411.2H781.0V411.2H781.5V400.5H782.0V400.5H782.5V400.5H783.0V400.5H783.5V400.5H784.0V404.5H784.5V404.5H785.0V404.5H785.5V404.5H786.0V404.5H786.5V416.1H787.0V416.1H787.5V418.4H788.0V414.3H788.5V406.6H789.0V406.6H789.5V406.6H790.0V406.6H790.5V406.6H791.0V407.4H791.5V413.3H792.0V413.3H792.5V418.8H793.0V405.8H793.5V405.8H794.0V405.8H794.5V402.6H795.0V402.6H795.5V402.6H796.0V402.6H796.5V402.6H797.0V408.4H797.5V408.4H798.0V408.4H798.5V415.5H799.0V415.5H799.5V415.5H800.0V402.8H800.5V402.8H801.0V402.8H801.5V402.8H802.0V402.8H802.5V413.7H803.0V413.7H803.5V413.7H804.0V413.7H804.5V405.4H805.0V405.4H805.5V405.4H806.0V405.4H806.5V405.4H807.0V408.5H807.5V408.5H808.0V408.5H808.5V408.5H809.0V414.1H809.5V414.1H810.0V414.1H810.5V414.1H811.0V416.4H811.5V416.4H812.0V404.0H812.5V404.0H813.0V404.0H813.5V403.3H814.0V403.3H814.5V403.3H815.0V403.3H815.5V403.3H816.0V417.1H816.5V410.1H817.0V397.7H817.5V397.7H818.0V397.7H818.5V397.7H819.0V397.7H819.5V409.5H820.0V409.5H820.5V409.5H821.0V409.5H821.5V416.5H822.0V416.5H822.5V416.5H823.0V416.5H823.5V416.5H824.0V405.3H824.5V404.7H825.0V404.7H825.5V389.0H826.0V389.0H826.5V389.0H827.0V389.0H827.5V389.0H828.0V420.2H828.5V420.2H829.0V420.2H829.5V411.5H830.0V411.5H830.5V408.5H831.0V405.0H831.5V405.0H832.0V405.0H832.5V405.0H833.0V405.0H833.5V413.6H834.0V382.7H834.5V382.7H835.0V382.7H835.5V382.7H836.0V382.7H836.5V408.9H837.0V408.9H837.5V402.8H838.0V402.8H838.5V402.8H839.0V402.8H839.5V402.8H840.0V406.7H840.5V406.7H841.0V408.6H841.5V408.6H842.0V408.6H842.5V415.4H843.0V415.4H843.5V415.4H844.0V415.4H844.5V421.8H845.0V400.2H845.5V400.2H846.0V400.2H846.5V400.2H847.0V389.0H847.5V389.0H848.0V389.0H848.5V389.0H849.0V389.0H849.5V421.1H850.0V413.2H850.5V413.2H851.0V413.2H851.5V413.2H852.0V413.2H852.5V415.5H853.0V415.0H853.5V406.3H854.0V406.3H854.5V404.1H855.0V404.1H855.5V404.1H856.0V404.1H856.5V404.1H857.0V407.9H857.5V408.9H858.0V408.9H858.5V408.9H859.0V408.9H859.5V401.2H860.0V401.2H860.5V401.2H861.0V401.2H861.5V401.2H862.0V410.0H862.5V411.1H863.0V411.1H863.5V411.1H864.0V412.9H864.5V412.9H865.0V399.5H865.5V399.5H866.0V399.5H866.5V399.5H867.0V399.5H867.5V407.3H868.0V407.3H868.5V407.3H869.0V404.9H869.5V404.9H870.0V404.9H870.5V398.7H871.0V398.7H871.5V398.7H872.0V398.7H872.5V398.7H873.0V414.7H873.5V414.7H874.0V405.4H874.5V405.4H875.0V405.4H875.5V405.4H876.0V405.4H876.5V412.3H877.0V412.7H877.5V412.7H878.0V412.7H878.5V412.7H879.0V417.2H879.5V417.2H880.0V412.8H880.5V412.8H881.0V412.8H881.5V412.7H882.0V412.7H882.5V412.7H883.0V412.7H883.5V412.7H884.0V420.9H884.5V417.4H885.0V417.4H885.5V417.4H886.0V410.6H886.5V406.1H887.0V406.1H887.5V406.1H888.0V406.1H888.5V406.1H889.0V423.3H889.5V408.0H890.0V408.0H890.5V408.0H891.0V408.0H891.5V408.0H892.0V400.1H892.5V400.1H893.0V400.1H893.5V400.1H894.0V400.1H894.5V415.0H895.0V415.0H895.5V400.9H896.0V400.9H896.5V400.9H897.0V400.9H897.5V400.9H898.0V406.5H898.5V413.9H899.0V419.4H899.5V418.4H900.0V415.5H900.5V415.5H901.0V415.5H901.5V405.0H902.0V405.0H902.5V405.0H903.0V405.0H903.5V405.0H904.0V409.9H904.5V409.9H905.0V409.9H905.5V405.8H906.0V405.8H906.5V405.8H907.0V405.8H907.5V405.8H908.0V408.8H908.5V408.8H909.0V399.0H909.5V399.0H910.0V399.0H910.5V399.0H911.0V399.0H911.5V409.7H912.0V409.7H912.5V409.7H913.0V409.7H913.5V409.7H914.0V409.8H914.5V411.6H915.0V411.6H915.5V411.6H916.0V412.6H916.5V412.6H917.0V392.7H917.5V392.7H918.0V392.7H918.5V392.7H919.0V392.7H919.5V415.3H920.0V415.3H920.5V417.3H921.0V419.1H921.5V415.7H922.0V415.7H922.5V415.7H923.0V409.9H923.5V409.9H924.0V409.9H924.5V402.1H925.0V402.1H925.5V402.1H926.0V402.1H926.5V402.1H927.0V413.5H927.5V411.9H928.0V411.9H928.5V410.3H929.0V410.3H929.5V410.3H930.0V410.3H930.5V410.3H931.0V412.0H931.5V407.5H932.0V404.6H932.5V402.7H933.0V402.7H933.5V402.7H934.0V402.7H934.5V402.7H935.0V405.2H935.5V405.2H936.0V405.2H936.5V405.2H937.0V405.2H937.5V410.7H938.0V410.7H938.5V410.7H939.0V410.7H939.5V410.7H940.0V420.2H940.5V407.6H941.0V403.2H941.5V403.2H942.0V403.2H942.5V403.2H943.0V403.2H943.5V409.2H944.0V409.2H944.5V406.1H945.0V406.1H945.5V406.1H946.0V405.8H946.5V405.8H947.0V405.8H947.5V405.8H948.0V404.5H948.5V404.5H949.0V404.5H949.5V404.5H950.0V404.5H950.5V412.3H951.0V417.6H951.5V413.0H952.0V413.0H952.5V413.0H953.0V413.0H953.5V402.3H954.0V402.3H954.5V402.3H955.0V402.3H955.5V402.3H956.0V403.6H956.5V403.6H957.0V408.0H957.5V417.2H958.0V418.3H958.5V414.2H959.0V414.2H959.5V407.1H960.0V407.1H960.5V407.1H961.0V407.1H961.5V407.1H962.0V412.2H962.5V412.2H963.0V412.2H963.5V412.2H964.0V417.5H964.5V417.5H965.0V420.1H965.5V420.1H966.0V420.1H966.5V415.1H967.0V415.1H967.5V413.5H968.0V413.5H968.5V410.8H969.0V410.8H969.5V410.8H970.0V410.8H970.5V410.8H971.0V402.9H971.5V402.9H972.0V402.9H972.5V402.1H973.0V402.1H973.5V402.1H974.0V402.1H974.5V402.1H975.0V412.3H975.5V412.3H976.0V421.1H976.5V420.3H977.0V417.9H977.5V417.9H978.0V417.9H978.5V412.2H979.0V403.6H979.5V403.6H980.0V403.6H980.5V403.6H981.0V403.6H981.5V414.7H982.0V417.0H982.5V414.6H983.0V412.9H983.5V412.9H984.0V412.9H984.5V412.9H985.0V409.4H985.5V409.4H986.0V409.4H986.5V409.4H987.0V405.6H987.5V397.0H988.0V397.0H988.5V397.0H989.0V397.0H989.5V397.0H990.0V406.0H990.5V406.0H991.0V406.0H991.5V406.0H992.0V410.9H992.5V410.9H993.0V410.9H993.5V407.2H994.0V407.2H994.5V407.2H995.0V407.2H995.5V407.2H996.0V409.1H996.5V409.1H997.0V409.1H997.5V409.1H998.0V408.4H998.5V408.4H999.0V408.4H999.5V408.4H1000.0V407.8H1000.5V407.8H1001.0V407.8H1001.5V407.8H1002.0V407.8H1002.5V418.2H1003.0V418.2H1003.5V413.5H1004.0V413.5H1004.5V413.5H1005.0V413.5H1005.5V413.5H1006.0V411.0H1006.5V403.5H1007.0V403.5H1007.5V403.5H1008.0V403.5H1008.5V403.5H1009.0V414.2H1009.5V414.2H1010.0V414.2H1010.5V414.2H1011.0V414.8H1011.5V414.8H1012.0V414.8H1012.5V416.7H1013.0V416.7H1013.5V416.7H1014.0V417.9H1014.5V417.9H1015.0V417.9H1015.5V417.9H1016.0V417.9H1016.5V414.5H1017.0V414.5H1017.5V413.0H1018.0V410.5H1018.5V410.5H1019.0V410.5H1019.5V410.5H1020.0V410.5H1020.5V419.8H1021.0V415.6H1021.5V415.6H1022.0V415.6H1022.5V415.6H1023.0V415.6H1023.5V417.3H1024.0V411.7H1024.5V411.7H1025.0V411.7H1025.5V411.7H1026.0V411.7H1026.5V419.1H1027.0V401.6H1027.5V401.6H1028.0V401.6H1028.5V401.6H1029.0V401.6H1029.5V408.3H1030.0V408.3H1030.5V391.2H1031.0V391.2H1031.5V391.2H1032.0V391.2H1032.5V391.2H1033.0V421.6H1033.5V421.6H1034.0V398.1H1034.5V398.1H1035.0V398.1H1035.5V398.1H1036.0V398.1H1036.5V413.6H1037.0V413.6H1037.5V413.6H1038.0V413.6H1038.5V407.4H1039.0V407.4H1039.5V404.1H1040.0V400.9H1040.5V400.9H1041.0V400.9H1041.5V400.9H1042.0V400.9H1042.5V408.2H1043.0V408.2H1043.5V408.2H1044.0V407.2H1044.5V407.2H1045.0V407.2H1045.5V407.2H1046.0V407.1H1046.5V407.1H1047.0V407.1H1047.5V407.1H1048.0V407.1H1048.5V411.4H1049.0V411.4H1049.5V408.8H1050.0V408.8H1050.5V408.8H1051.0V408.8H1051.5V408.8H1052.0V417.4H1052.5V417.4H1053.0V417.4H1053.5V419.6H1054.0V419.9H1054.5V421.5H1055.0V417.0H1055.5V417.0H1056.0V415.7H1056.5V415.7H1057.0V415.7H1057.5V415.7H1058.0V415.7H1058.5V408.0H1059.0V408.0H1059.5V408.0H1060.0V408.0H1060.5V402.4H1061.0V398.8H1061.5V398.8H1062.0V398.8H1062.5V398.8H1063.0V398.8H1063.5V412.2H1064.0V412.2H1064.5V406.4H1065.0V406.4H1065.5V406.4H1066.0V406.4H1066.5V406.4H1067.0V408.2H1067.5V397.8H1068.0V397.8H1068.5V397.8H1069.0V397.8H1069.5V397.8H1070.0V409.1H1070.5V409.1H1071.0V409.1H1071.5V410.1H1072.0V410.1H1072.5V422.4H1073.0V404.3H1073.5V404.3H1074.0V404.3H1074.5V404.3H1075.0V404.3H1075.5V407.1H1076.0V406.2H1076.5V406.2H1077.0V406.2H1077.5V406.2H1078.0V406.2H1078.5V412.3H1079.0V408.2H1079.5V408.2H1080.0V408.2H1080.5V408.2H1081.0V408.2H1081.5V403.7H1082.0V403.7H1082.5V403.7H1083.0V403.7H1083.5V403.7H1084.0V404.8H1084.5V404.8H1085.0V404.8H1085.5V404.8H1086.0V404.8H1086.5V405.4H1087.0V405.4H1087.5V401.9H1088.0V392.1H1088.5V392.1H1089.0V392.1H1089.5V392.1H1090.0V392.1H1090.5V414.6H1091.0V414.6H1091.5V414.6H1092.0V403.4H1092.5V403.4H1093.0V403.4H1093.5V403.4H1094.0V397.1H1094.5V397.1H1095.0V397.1H1095.5V397.1H1096.0V397.1H1096.5V398.0H1097.0V407.6H1097.5V407.6H1098.0V407.6H1098.5V407.6H1099.0V411.5H1099.5V411.5H1100.0V411.5H1100.5V416.4H1101.0V416.4H1101.5V416.4H1102.0V418.9H1102.5V418.9H1103.0V419.7H1103.5V405.7H1104.0V405.7H1104.5V405.7H1105.0V405.7H1105.5V402.5H1106.0V402.5H1106.5V402.5H1107.0V402.5H1107.5V402.5H1108.0V411.8H1108.5V411.8H1109.0V411.8H1109.5V412.9H1110.0V412.9H1110.5V412.9H1111.0V412.9H1111.5V412.9H1112.0V415.1H1112.5V416.2H1113.0V416.2H1113.5V415.1H1114.0V415.1H1114.5V415.1H1115.0V405.7H1115.5V405.7H1116.0V405.7H1116.5V405.5H1117.0V405.5H1117.5V405.5H1118.0V405.5H1118.5V405.5H1119.0V414.9H1119.5V414.9H1120.0V412.5H1120.5V412.5H1121.0V412.5H1121.5V412.5H1122.0V412.5H1122.5V400.3H1123.0V400.3H1123.5V400.3H1124.0V400.3H1124.5V400.3H1125.0V413.2H1125.5V413.2H1126.0V413.2H1126.5V413.2H1127.0V419.4H1127.5V405.4H1128.0V405.4H1128.5V405.4H1129.0V396.9H1129.5V396.9H1130.0V396.9H1130.5V396.9H1131.0V396.9H1131.5V406.9H1132.0V406.9H1132.5V406.9H1133.0V406.9H1133.5V398.2H1134.0V398.2H1134.5V398.2H1135.0V398.2H1135.5V398.2H1136.0V416.7H1136.5V416.7H1137.0V411.2H1137.5V411.2H1138.0V387.4H1138.5V387.4H1139.0V387.4H1139.5V387.4H1140.0V387.4H1140.5V406.1H1141.0V406.1H1141.5V406.1H1142.0V406.1H1142.5V406.1H1143.0V417.7H1143.5V417.7H1144.0V405.9H1144.5V405.9H1145.0V405.9H1145.5V405.9H1146.0V405.9H1146.5V414.5H1147.0V414.5H1147.5V407.6H1148.0V407.6H1148.5V399.8H1149.0V399.8H1149.5V399.8H1150.0V399.8H1150.5V399.8H1151.0V409.9H1151.5V409.9H1152.0V407.3H1152.5V407.3H1153.0V407.3H1153.5V405.0H1154.0V405.0H1154.5V405.0H1155.0V405.0H1155.5V405.0H1156.0V410.5H1156.5V412.3H1157.0V412.3H1157.5V412.3H1158.0V412.3H1158.5V417.0H1159.0V415.7H1159.5V415.7H1160.0V415.7H1160.5V415.7H1161.0V415.7H1161.5V428.3H1162.0V428.3H1162.5V428.3H1163.0V428.1H1163.5V409.3H1164.0V409.3H1164.5V409.3H1165.0V409.3H1165.5V409.3H1166.0V403.1H1166.5V403.1H1167.0V403.1H1167.5V403.1H1168.0V403.1H1168.5V403.0H1169.0V403.0H1169.5V403.0H1170.0V403.0H1170.5V403.0H1171.0V406.5H1171.5V406.5H1172.0V413.1H1172.5V400.5H1173.0V400.5H1173.5V400.5H1174.0V400.5H1174.5V400.5H1175.0V406.1H1175.5V411.3H1176.0V407.5H1176.5V407.5H1177.0V407.5H1177.5V407.5H1178.0V407.5H1178.5V414.8H1179.0V410.8H1179.5V408.6H1180.0V408.6H1180.5V408.6H1181.0V399.0H1181.5V399.0H1182.0V399.0H1182.5V399.0H1183.0V399.0H1183.5V409.6H1184.0V409.6H1184.5V409.6H1185.0V409.7H1185.5V409.7H1186.0V409.7H1186.5V414.5H1187.0V414.5H1187.5V414.5H1188.0V414.5H1188.5V414.5H1189.0V405.9H1189.5V405.9H1190.0V405.9H1190.5V405.9H1191.0V405.9H1191.5V421.7H1192.0V421.7H1192.5V411.6H1193.0V411.6H1193.5V411.6H1194.0V411.6H1194.5V411.6H1195.0V417.6H1195.5V417.6H1196.0V417.0H1196.5V417.0H1197.0V415.5H1197.5V414.5H1198.0V414.5H1198.5V406.8H1199.0V406.8H1199.5V406.8H1200.0V406.8H1200.5V400.6H1201.0V400.6H1201.5V400.6H1202.0V400.6H1202.5V400.6H1203.0V407.1H1203.5V407.1H1204.0V400.7H1204.5V400.7H1205.0V400.7H1205.5V400.7H1206.0V400.7H1206.5V412.6H1207.0V414.2H1207.5V407.4H1208.0V407.4H1208.5V403.0H1209.0V403.0H1209.5V403.0H1210.0V403.0H1210.5V403.0H1211.0V406.5H1211.5V418.8H1212.0V411.0H1212.5V402.4H1213.0V402.4H1213.5V402.4H1214.0V402.4H1214.5V399.1H1215.0V399.1H1215.5V399.1H1216.0V399.1H1216.5V399.1H1217.0V404.3H1217.5V404.3H1218.0V404.3H1218.5V404.3H1219.0V413.6H1219.5V419.5H1220.0V412.3H1220.5V412.3H1221.0V412.3H1221.5V408.8H1222.0V405.5H1222.5V405.5H1223.0V405.5H1223.5V405.5H1224.0V405.5H1224.5V414.1H1225.0V414.1H1225.5V414.1H1226.0V412.2H1226.5V412.2H1227.0V412.2H1227.5V410.5H1228.0V410.5H1228.5V404.4H1229.0V404.4H1229.5V404.4H1230.0V404.4H1230.5V404.4H1231.0V415.4H1231.5V406.8H1232.0V406.8H1232.5V406.8H1233.0V406.8H1233.5V406.8H1234.0V419.7H1234.5V419.7H1235.0V422.9H1235.5V414.3H1236.0V411.0H1236.5V411.0H1237.0V411.0H1237.5V411.0H1238.0V411.0H1238.5V407.2H1239.0V407.2H1239.5V407.2H1240.0V407.2H1240.5V407.2H1241.0V409.4H1241.5V413.4H1242.0V413.4H1242.5V417.5H1243.0V417.5H1243.5V417.5H1244.0V417.5H1244.5V422.8H1245.0V422.8H1245.5V431.6H1246.0V463.8H1245.5V487.0H1245.0V487.0H1244.5V488.1H1244.0V488.1H1243.5V488.1H1243.0V497.6H1242.5V497.6H1242.0V497.6H1241.5V497.6H1241.0V497.6H1240.5V497.4H1240.0V496.9H1239.5V496.9H1239.0V496.9H1238.5V496.9H1238.0V497.9H1237.5V497.9H1237.0V497.9H1236.5V497.9H1236.0V497.9H1235.5V497.4H1235.0V497.4H1234.5V482.5H1234.0V482.5H1233.5V482.5H1233.0V482.5H1232.5V482.5H1232.0V477.5H1231.5V487.2H1231.0V487.2H1230.5V487.2H1230.0V487.6H1229.5V487.6H1229.0V487.6H1228.5V487.6H1228.0V487.6H1227.5V482.4H1227.0V482.4H1226.5V475.7H1226.0V475.4H1225.5V477.5H1225.0V478.5H1224.5V478.5H1224.0V478.5H1223.5V514.3H1223.0V514.3H1222.5V514.3H1222.0V514.3H1221.5V514.3H1221.0V495.8H1220.5V493.0H1220.0V497.3H1219.5V497.3H1219.0V497.3H1218.5V497.3H1218.0V497.3H1217.5V492.6H1217.0V492.6H1216.5V494.3H1216.0V494.3H1215.5V494.3H1215.0V494.3H1214.5V494.3H1214.0V482.7H1213.5V480.1H1213.0V480.5H1212.5V480.5H1212.0V483.8H1211.5V514.3H1211.0V514.3H1210.5V514.3H1210.0V514.3H1209.5V514.3H1209.0V479.7H1208.5V479.7H1208.0V477.0H1207.5V491.8H1207.0V491.8H1206.5V491.8H1206.0V491.8H1205.5V491.8H1205.0V484.7H1204.5V484.7H1204.0V484.7H1203.5V494.3H1203.0V510.8H1202.5V510.8H1202.0V510.8H1201.5V510.8H1201.0V535.6H1200.5V535.6H1200.0V535.6H1199.5V535.6H1199.0V535.6H1198.5V515.8H1198.0V515.8H1197.5V515.8H1197.0V515.8H1196.5V515.8H1196.0V473.4H1195.5V490.1H1195.0V490.1H1194.5V494.0H1194.0V494.0H1193.5V494.0H1193.0V494.0H1192.5V494.0H1192.0V489.7H1191.5V489.7H1191.0V489.7H1190.5V489.7H1190.0V489.7H1189.5V479.4H1189.0V479.4H1188.5V487.3H1188.0V487.3H1187.5V490.8H1187.0V490.8H1186.5V490.8H1186.0V490.8H1185.5V490.8H1185.0V483.8H1184.5V483.8H1184.0V483.8H1183.5V483.8H1183.0V484.0H1182.5V484.0H1182.0V484.0H1181.5V484.0H1181.0V484.0H1180.5V483.6H1180.0V483.6H1179.5V483.6H1179.0V483.6H1178.5V483.6H1178.0V480.3H1177.5V480.3H1177.0V480.3H1176.5V527.4H1176.0V527.4H1175.5V527.4H1175.0V527.4H1174.5V527.4H1174.0V492.6H1173.5V476.2H1173.0V490.0H1172.5V490.0H1172.0V490.0H1171.5V490.0H1171.0V490.0H1170.5V483.6H1170.0V486.3H1169.5V486.3H1169.0V486.3H1168.5V486.3H1168.0V486.3H1167.5V491.8H1167.0V491.8H1166.5V491.8H1166.0V491.8H1165.5V491.8H1165.0V474.8H1164.5V482.1H1164.0V482.1H1163.5V482.1H1163.0V482.1H1162.5V493.2H1162.0V493.2H1161.5V493.2H1161.0V493.2H1160.5V493.2H1160.0V484.0H1159.5V484.0H1159.0V484.0H1158.5V484.0H1158.0V488.2H1157.5V488.2H1157.0V488.2H1156.5V488.2H1156.0V488.2H1155.5V478.6H1155.0V484.4H1154.5V484.8H1154.0V484.8H1153.5V486.8H1153.0V486.8H1152.5V486.8H1152.0V486.8H1151.5V486.8H1151.0V488.9H1150.5V488.9H1150.0V488.9H1149.5V488.9H1149.0V488.9H1148.5V470.1H1148.0V470.1H1147.5V472.0H1147.0V484.4H1146.5V487.0H1146.0V487.0H1145.5V487.0H1145.0V487.0H1144.5V487.0H1144.0V484.4H1143.5V483.7H1143.0V490.9H1142.5V490.9H1142.0V490.9H1141.5V490.9H1141.0V507.4H1140.5V507.4H1140.0V507.4H1139.5V507.4H1139.0V507.4H1138.5V488.6H1138.0V474.9H1137.5V474.9H1137.0V474.9H1136.5V482.8H1136.0V482.8H1135.5V482.8H1135.0V482.8H1134.5V484.6H1134.0V484.6H1133.5V484.6H1133.0V484.6H1132.5V484.6H1132.0V480.1H1131.5V497.8H1131.0V497.8H1130.5V497.8H1130.0V497.8H1129.5V497.8H1129.0V489.2H1128.5V489.2H1128.0V494.7H1127.5V499.2H1127.0V499.2H1126.5V499.2H1126.0V499.2H1125.5V499.2H1125.0V488.0H1124.5V488.0H1124.0V488.0H1123.5V488.0H1123.0V481.4H1122.5V481.4H1122.0V479.9H1121.5V468.2H1121.0V490.6H1120.5V490.6H1120.0V491.3H1119.5V491.3H1119.0V491.3H1118.5V506.4H1118.0V506.4H1117.5V506.4H1117.0V506.4H1116.5V506.4H1116.0V480.3H1115.5V480.3H1115.0V480.3H1114.5V478.4H1114.0V478.4H1113.5V478.4H1113.0V480.2H1112.5V487.8H1112.0V488.4H1111.5V488.4H1111.0V488.4H1110.5V488.4H1110.0V488.4H1109.5V481.4H1109.0V486.4H1108.5V486.4H1108.0V486.4H1107.5V486.4H1107.0V486.4H1106.5V485.1H1106.0V473.8H1105.5V478.2H1105.0V478.2H1104.5V478.9H1104.0V498.3H1103.5V498.3H1103.0V498.3H1102.5V498.3H1102.0V498.3H1101.5V491.2H1101.0V491.2H1100.5V491.2H1100.0V491.2H1099.5V491.2H1099.0V490.6H1098.5V490.6H1098.0V490.6H1097.5V490.6H1097.0V490.6H1096.5V482.9H1096.0V495.6H1095.5V495.6H1095.0V495.6H1094.5V495.6H1094.0V495.6H1093.5V471.8H1093.0V471.8H1092.5V478.5H1092.0V478.5H1091.5V478.5H1091.0V482.4H1090.5V482.4H1090.0V490.0H1089.5V490.0H1089.0V490.0H1088.5V490.0H1088.0V490.0H1087.5V484.0H1087.0V484.0H1086.5V485.9H1086.0V485.9H1085.5V485.9H1085.0V485.9H1084.5V485.9H1084.0V482.1H1083.5V482.4H1083.0V482.4H1082.5V487.2H1082.0V487.2H1081.5V487.2H1081.0V487.2H1080.5V487.2H1080.0V474.7H1079.5V481.6H1079.0V481.6H1078.5V481.6H1078.0V481.6H1077.5V481.6H1077.0V475.9H1076.5V487.5H1076.0V487.5H1075.5V487.5H1075.0V492.1H1074.5V492.1H1074.0V492.1H1073.5V492.1H1073.0V492.1H1072.5V487.0H1072.0V487.0H1071.5V487.0H1071.0V480.3H1070.5V493.7H1070.0V493.7H1069.5V493.7H1069.0V493.7H1068.5V493.7H1068.0V488.7H1067.5V488.7H1067.0V488.7H1066.5V494.6H1066.0V494.6H1065.5V494.6H1065.0V494.6H1064.5V494.6H1064.0V480.1H1063.5V480.1H1063.0V480.1H1062.5V480.1H1062.0V480.7H1061.5V504.2H1061.0V504.2H1060.5V504.2H1060.0V504.2H1059.5V504.2H1059.0V480.2H1058.5V480.2H1058.0V480.2H1057.5V492.4H1057.0V492.4H1056.5V495.9H1056.0V495.9H1055.5V495.9H1055.0V495.9H1054.5V495.9H1054.0V490.5H1053.5V490.5H1053.0V490.5H1052.5V490.5H1052.0V475.4H1051.5V473.4H1051.0V473.4H1050.5V472.4H1050.0V468.8H1049.5V490.6H1049.0V490.6H1048.5V490.6H1048.0V490.6H1047.5V490.6H1047.0V486.8H1046.5V486.8H1046.0V486.8H1045.5V486.8H1045.0V486.8H1044.5V482.2H1044.0V479.3H1043.5V496.1H1043.0V496.1H1042.5V496.1H1042.0V496.1H1041.5V496.1H1041.0V494.6H1040.5V494.6H1040.0V494.6H1039.5V494.6H1039.0V491.2H1038.5V491.2H1038.0V477.7H1037.5V477.7H1037.0V477.7H1036.5V473.5H1036.0V473.5H1035.5V473.5H1035.0V473.5H1034.5V484.6H1034.0V484.6H1033.5V484.6H1033.0V484.6H1032.5V484.6H1032.0V478.3H1031.5V478.3H1031.0V478.3H1030.5V478.3H1030.0V477.7H1029.5V481.8H1029.0V481.8H1028.5V481.8H1028.0V484.7H1027.5V484.7H1027.0V490.8H1026.5V490.8H1026.0V504.8H1025.5V504.8H1025.0V504.8H1024.5V504.8H1024.0V504.8H1023.5V490.7H1023.0V490.7H1022.5V490.7H1022.0V490.7H1021.5V490.7H1021.0V479.2H1020.5V475.1H1020.0V475.1H1019.5V499.7H1019.0V499.7H1018.5V499.7H1018.0V499.7H1017.5V499.7H1017.0V489.9H1016.5V489.9H1016.0V478.5H1015.5V495.3H1015.0V495.3H1014.5V495.3H1014.0V495.3H1013.5V495.3H1013.0V483.6H1012.5V484.6H1012.0V484.6H1011.5V484.6H1011.0V484.6H1010.5V484.6H1010.0V473.9H1009.5V473.9H1009.0V499.7H1008.5V499.7H1008.0V499.7H1007.5V499.7H1007.0V499.7H1006.5V495.4H1006.0V495.4H1005.5V492.0H1005.0V492.0H1004.5V492.0H1004.0V483.8H1003.5V483.8H1003.0V481.8H1002.5V481.8H1002.0V481.8H1001.5V481.8H1001.0V492.1H1000.5V492.1H1000.0V496.3H999.5V496.3H999.0V496.3H998.5V496.3H998.0V496.3H997.5V481.3H997.0V481.3H996.5V468.5H996.0V471.6H995.5V471.6H995.0V471.6H994.5V474.0H994.0V474.0H993.5V474.0H993.0V489.2H992.5V489.2H992.0V489.2H991.5V489.2H991.0V489.2H990.5V487.1H990.0V487.1H989.5V487.1H989.0V470.1H988.5V470.1H988.0V476.6H987.5V488.2H987.0V488.2H986.5V488.2H986.0V488.2H985.5V488.2H985.0V476.4H984.5V476.4H984.0V491.9H983.5V491.9H983.0V491.9H982.5V491.9H982.0V491.9H981.5V473.4H981.0V473.4H980.5V486.9H980.0V486.9H979.5V486.9H979.0V486.9H978.5V486.9H978.0V475.5H977.5V483.0H977.0V483.0H976.5V483.0H976.0V483.0H975.5V483.0H975.0V480.5H974.5V477.7H974.0V474.6H973.5V474.6H973.0V469.6H972.5V470.1H972.0V470.1H971.5V470.1H971.0V484.6H970.5V484.6H970.0V484.6H969.5V484.6H969.0V484.6H968.5V478.6H968.0V476.6H967.5V476.6H967.0V476.6H966.5V476.6H966.0V479.5H965.5V479.5H965.0V479.5H964.5V492.4H964.0V492.4H963.5V492.4H963.0V492.4H962.5V492.4H962.0V499.2H961.5V499.2H961.0V499.2H960.5V499.2H960.0V499.2H959.5V489.3H959.0V489.3H958.5V489.3H958.0V481.7H957.5V481.7H957.0V481.7H956.5V483.8H956.0V483.8H955.5V483.8H955.0V483.8H954.5V483.8H954.0V474.9H953.5V491.1H953.0V494.8H952.5V494.8H952.0V494.8H951.5V494.8H951.0V494.8H950.5V491.0H950.0V491.0H949.5V490.5H949.0V490.5H948.5V490.5H948.0V490.5H947.5V490.5H947.0V484.2H946.5V484.2H946.0V484.2H945.5V484.2H945.0V483.4H944.5V483.4H944.0V483.4H943.5V483.4H943.0V483.4H942.5V474.8H942.0V474.8H941.5V491.4H941.0V491.4H940.5V491.4H940.0V491.4H939.5V491.4H939.0V489.9H938.5V489.9H938.0V489.9H937.5V489.9H937.0V488.1H936.5V488.1H936.0V488.6H935.5V488.6H935.0V488.6H934.5V488.6H934.0V488.6H933.5V486.4H933.0V486.4H932.5V486.4H932.0V486.4H931.5V482.5H931.0V482.5H930.5V482.5H930.0V482.5H929.5V482.5H929.0V485.2H928.5V485.2H928.0V485.2H927.5V485.2H927.0V485.2H926.5V483.6H926.0V483.6H925.5V483.6H925.0V471.1H924.5V512.7H924.0V512.7H923.5V512.7H923.0V512.7H922.5V512.7H922.0V493.7H921.5V493.7H921.0V493.7H920.5V493.7H920.0V490.9H919.5V520.5H919.0V520.5H918.5V520.5H918.0V520.5H917.5V520.5H917.0V495.3H916.5V495.3H916.0V489.4H915.5V489.4H915.0V489.4H914.5V489.4H914.0V486.1H913.5V486.1H913.0V486.1H912.5V473.9H912.0V471.1H911.5V471.1H911.0V471.1H910.5V471.1H910.0V479.6H909.5V484.9H909.0V484.9H908.5V487.1H908.0V487.1H907.5V487.1H907.0V487.1H906.5V487.1H906.0V483.3H905.5V483.3H905.0V483.9H904.5V483.9H904.0V483.9H903.5V483.9H903.0V483.9H902.5V471.6H902.0V470.9H901.5V470.9H901.0V479.8H900.5V479.8H900.0V480.2H899.5V480.2H899.0V480.2H898.5V480.2H898.0V480.2H897.5V470.1H897.0V470.1H896.5V470.1H896.0V480.4H895.5V480.4H895.0V492.1H894.5V492.1H894.0V492.1H893.5V492.1H893.0V492.1H892.5V481.6H892.0V481.6H891.5V481.6H891.0V481.6H890.5V479.0H890.0V496.6H889.5V496.6H889.0V496.6H888.5V496.6H888.0V496.6H887.5V484.3H887.0V484.3H886.5V515.8H886.0V515.8H885.5V515.8H885.0V515.8H884.5V515.8H884.0V517.4H883.5V517.4H883.0V517.4H882.5V517.4H882.0V517.4H881.5V472.3H881.0V472.3H880.5V472.3H880.0V472.3H879.5V482.7H879.0V482.7H878.5V482.7H878.0V482.7H877.5V482.7H877.0V479.0H876.5V479.0H876.0V479.0H875.5V479.0H875.0V479.0H874.5V476.9H874.0V476.9H873.5V476.9H873.0V495.0H872.5V495.0H872.0V495.0H871.5V495.0H871.0V495.0H870.5V477.7H870.0V477.7H869.5V485.6H869.0V485.6H868.5V485.6H868.0V485.6H867.5V487.6H867.0V487.6H866.5V487.6H866.0V487.6H865.5V487.6H865.0V485.9H864.5V485.9H864.0V485.9H863.5V475.5H863.0V489.0H862.5V489.0H862.0V489.0H861.5V489.0H861.0V493.6H860.5V493.6H860.0V493.6H859.5V493.6H859.0V493.6H858.5V499.6H858.0V499.6H857.5V499.6H857.0V499.6H856.5V499.6H856.0V487.0H855.5V483.6H855.0V483.6H854.5V483.6H854.0V483.6H853.5V465.3H853.0V482.6H852.5V482.6H852.0V482.6H851.5V482.6H851.0V482.6H850.5V496.5H850.0V496.5H849.5V496.5H849.0V496.5H848.5V496.5H848.0V491.9H847.5V491.9H847.0V484.9H846.5V484.9H846.0V484.9H845.5V476.9H845.0V476.9H844.5V476.9H844.0V476.9H843.5V468.1H843.0V468.1H842.5V465.6H842.0V479.8H841.5V479.8H841.0V479.8H840.5V479.8H840.0V480.0H839.5V481.1H839.0V481.1H838.5V489.3H838.0V490.8H837.5V490.8H837.0V490.8H836.5V490.8H836.0V490.8H835.5V478.2H835.0V480.6H834.5V480.6H834.0V480.6H833.5V480.6H833.0V480.6H832.5V475.0H832.0V475.0H831.5V475.0H831.0V475.0H830.5V475.0H830.0V488.5H829.5V488.5H829.0V488.5H828.5V495.5H828.0V495.5H827.5V495.5H827.0V495.5H826.5V495.5H826.0V477.0H825.5V489.4H825.0V489.4H824.5V489.4H824.0V489.4H823.5V494.9H823.0V494.9H822.5V494.9H822.0V494.9H821.5V494.9H821.0V486.2H820.5V486.2H820.0V486.2H819.5V493.5H819.0V493.5H818.5V493.5H818.0V493.5H817.5V493.5H817.0V471.4H816.5V476.2H816.0V479.9H815.5V479.9H815.0V479.9H814.5V479.9H814.0V479.9H813.5V494.3H813.0V494.3H812.5V494.3H812.0V494.3H811.5V494.3H811.0V487.5H810.5V479.1H810.0V479.1H809.5V484.9H809.0V484.9H808.5V484.9H808.0V484.9H807.5V484.9H807.0V484.5H806.5V484.5H806.0V484.5H805.5V484.5H805.0V484.5H804.5V479.5H804.0V483.3H803.5V483.3H803.0V483.3H802.5V499.2H802.0V499.2H801.5V499.2H801.0V499.2H800.5V499.2H800.0V479.6H799.5V480.3H799.0V483.7H798.5V483.7H798.0V487.9H797.5V487.9H797.0V487.9H796.5V487.9H796.0V487.9H795.5V487.7H795.0V487.7H794.5V487.7H794.0V486.0H793.5V486.0H793.0V486.0H792.5V498.0H792.0V498.0H791.5V498.0H791.0V498.0H790.5V498.0H790.0V470.9H789.5V470.9H789.0V485.3H788.5V485.3H788.0V485.3H787.5V485.3H787.0V485.3H786.5V468.5H786.0V493.2H785.5V493.2H785.0V493.2H784.5V493.2H784.0V493.2H783.5V478.9H783.0V478.9H782.5V478.9H782.0V478.9H781.5V477.0H781.0V477.0H780.5V477.0H780.0V479.3H779.5V479.3H779.0V479.3H778.5V479.3H778.0V479.3H777.5V482.0H777.0V482.0H776.5V491.3H776.0V491.3H775.5V491.3H775.0V491.3H774.5V498.8H774.0V498.8H773.5V498.8H773.0V498.8H772.5V498.8H772.0V480.6H771.5V480.6H771.0V480.6H770.5V480.6H770.0V492.3H769.5V499.3H769.0V499.3H768.5V499.3H768.0V499.3H767.5V499.3H767.0V481.8H766.5V477.0H766.0V477.0H765.5V477.0H765.0V474.9H764.5V474.9H764.0V474.9H763.5V472.9H763.0V472.9H762.5V475.0H762.0V486.0H761.5V486.0H761.0V504.9H760.5V504.9H760.0V504.9H759.5V504.9H759.0V504.9H758.5V474.6H758.0V499.6H757.5V499.6H757.0V499.6H756.5V499.6H756.0V499.6H755.5V495.5H755.0V495.5H754.5V495.5H754.0V495.5H753.5V499.7H753.0V499.7H752.5V499.7H752.0V499.7H751.5V499.7H751.0V492.6H750.5V492.6H750.0V492.6H749.5V492.6H749.0V492.6H748.5V483.1H748.0V483.1H747.5V483.1H747.0V483.1H746.5V473.7H746.0V473.7H745.5V495.7H745.0V495.7H744.5V495.7H744.0V495.7H743.5V495.7H743.0V490.3H742.5V490.3H742.0V490.3H741.5V485.1H741.0V485.1H740.5V485.1H740.0V478.4H739.5V478.4H739.0V478.4H738.5V473.8H738.0V473.8H737.5V473.8H737.0V470.0H736.5V473.5H736.0V473.5H735.5V473.5H735.0V483.9H734.5V483.9H734.0V483.9H733.5V487.3H733.0V487.3H732.5V487.3H732.0V487.3H731.5V487.3H731.0V482.6H730.5V480.8H730.0V484.5H729.5V484.9H729.0V484.9H728.5V484.9H728.0V506.4H727.5V506.4H727.0V506.4H726.5V506.4H726.0V506.4H725.5V480.9H725.0V477.1H724.5V492.1H724.0V492.1H723.5V492.1H723.0V492.1H722.5V492.1H722.0V476.2H721.5V476.2H721.0V487.5H720.5V487.5H720.0V519.9H719.5V519.9H719.0V519.9H718.5V519.9H718.0V519.9H717.5V497.9H717.0V497.9H716.5V497.9H716.0V482.0H715.5V482.0H715.0V473.8H714.5V473.8H714.0V473.8H713.5V474.4H713.0V474.4H712.5V474.4H712.0V477.0H711.5V477.0H711.0V487.6H710.5V487.6H710.0V487.6H709.5V487.6H709.0V487.6H708.5V480.9H708.0V480.9H707.5V480.9H707.0V474.9H706.5V474.9H706.0Z" fill="#4F81BD"/>
<text class="ttl" x="305.6" y="31.5" text-anchor="middle" letter-spacing="1.4" textLength="97.4" lengthAdjust="spacingAndGlyphs">Loss Chart</text>
<text class="ttl" x="970.7" y="30.2" text-anchor="middle" letter-spacing="1.4" textLength="97.4" lengthAdjust="spacingAndGlyphs">Loss Chart</text>
<text class="ttl" x="305.3" y="338.6" text-anchor="middle" letter-spacing="1.4" textLength="170.0" lengthAdjust="spacingAndGlyphs">Comparison Chart</text>
<text class="ttl" x="970.6" y="337.6" text-anchor="middle" letter-spacing="1.4" textLength="170.4" lengthAdjust="spacingAndGlyphs">Comparison Chart</text>
<rect x="13.0" y="11.9" width="148.1" height="23.9" fill="#ffff00"/>
<text class="hl" x="13.5" y="30.75" textLength="147.5" lengthAdjust="spacingAndGlyphs">Loss of each step</text>
<rect x="677.6" y="11.8" width="219.2" height="23.7" fill="#ffff00"/>
<text class="hl" x="677.5" y="30.6" textLength="218.8" lengthAdjust="spacingAndGlyphs">Global norm of each step</text>
<line x1="144.3" y1="286.0" x2="156.7" y2="286.0" stroke="#4F81BD" stroke-width="2.2"/>
<text class="leg" x="160.2" y="289.3" textLength="114.7" lengthAdjust="spacingAndGlyphs">npu_1p_fp32_lr_0.txt</text>
<line x1="284.0" y1="286.0" x2="296.3" y2="286.0" stroke="#C0504D" stroke-width="2.2"/>
<text class="leg" x="299.9" y="289.3" textLength="165.5" lengthAdjust="spacingAndGlyphs">gpu_1p_fp32_emb_lr0_final.txt</text>
<line x1="809.6" y1="284.8" x2="821.4" y2="284.8" stroke="#4F81BD" stroke-width="2.2"/>
<text class="leg" x="825.3" y="288.1" textLength="165.2" lengthAdjust="spacingAndGlyphs">gpu_1p_fp32_emb_lr0_final.txt</text>
<line x1="1000.2" y1="284.8" x2="1012.3" y2="284.8" stroke="#C0504D" stroke-width="2.2"/>
<text class="leg" x="1016.7" y="288.1" textLength="114.1" lengthAdjust="spacingAndGlyphs">npu_1p_fp32_lr_0.txt</text>
<line x1="285.5" y1="593.4" x2="296.8" y2="593.4" stroke="#4F81BD" stroke-width="2.2"/>
<text class="leg" x="301.0" y="596.7" textLength="26.0" lengthAdjust="spacingAndGlyphs">Error</text>
<line x1="949.9" y1="593.0" x2="962.4" y2="593.0" stroke="#4F81BD" stroke-width="2.2"/>
<text class="leg" x="965.8" y="596.3" textLength="26.5" lengthAdjust="spacingAndGlyphs">Error</text>
<rect x="736.1" y="150.3" width="103" height="26.3" fill="#000" fill-opacity="0.07"/>
<rect x="734.6" y="148.8" width="102.7" height="26.4" fill="#fff" fill-opacity="0.9" stroke="#c0504d" stroke-width="1"/>
<text x="741.0" y="166.4" style="font-size:13.5px;fill:#c0504d;stroke:#c0504d;stroke-width:0.3px;" textLength="25.6" lengthAdjust="spacingAndGlyphs">381:</text>
<text x="776.0" y="166.4" style="font-size:13.5px;fill:#0a0a0a;stroke:#0a0a0a;stroke-width:0.3px;" textLength="56.4" lengthAdjust="spacingAndGlyphs">4.206832</text>
</svg>
</body></html>
